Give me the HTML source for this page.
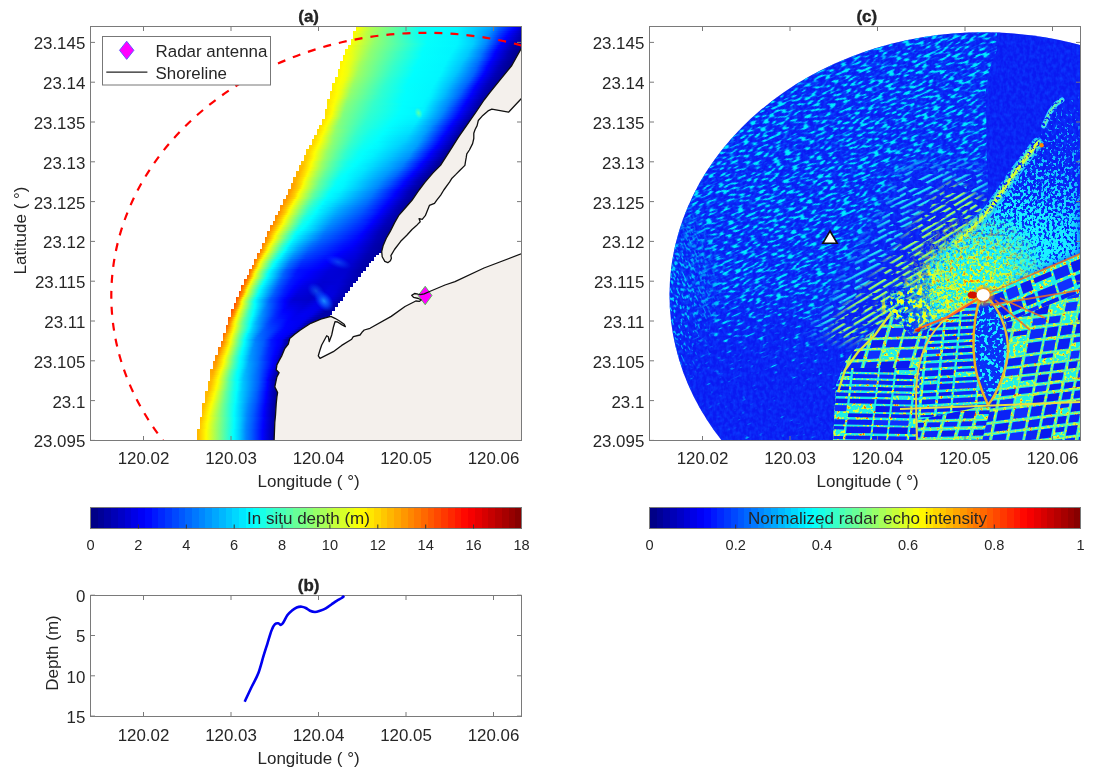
<!DOCTYPE html>
<html><head><meta charset="utf-8"><style>
html,body{margin:0;padding:0;background:#fff;}
body{width:1096px;height:780px;position:relative;overflow:hidden;font-family:"Liberation Sans",sans-serif;}
.abs{position:absolute;}
.bz div{position:absolute;height:2px;}
svg text{font-family:"Liberation Sans",sans-serif;}
</style></head><body>
<div style="position:absolute;left:90.5px;top:507.5px;width:431.0px;height:21.0px;background:linear-gradient(90deg,#000087 0.000%,#000087 1.562%,#000097 1.562%,#000097 3.125%,#0000a7 3.125%,#0000a7 4.688%,#0000b7 4.688%,#0000b7 6.250%,#0000c7 6.250%,#0000c7 7.812%,#0000d7 7.812%,#0000d7 9.375%,#0000e7 9.375%,#0000e7 10.938%,#0000f7 10.938%,#0000f7 12.500%,#0008ff 12.500%,#0008ff 14.062%,#0018ff 14.062%,#0018ff 15.625%,#0028ff 15.625%,#0028ff 17.188%,#0038ff 17.188%,#0038ff 18.750%,#0048ff 18.750%,#0048ff 20.312%,#0058ff 20.312%,#0058ff 21.875%,#0068ff 21.875%,#0068ff 23.438%,#0078ff 23.438%,#0078ff 25.000%,#0087ff 25.000%,#0087ff 26.562%,#0097ff 26.562%,#0097ff 28.125%,#00a7ff 28.125%,#00a7ff 29.688%,#00b7ff 29.688%,#00b7ff 31.250%,#00c7ff 31.250%,#00c7ff 32.812%,#00d7ff 32.812%,#00d7ff 34.375%,#00e7ff 34.375%,#00e7ff 35.938%,#00f7ff 35.938%,#00f7ff 37.500%,#08fff7 37.500%,#08fff7 39.062%,#18ffe7 39.062%,#18ffe7 40.625%,#28ffd7 40.625%,#28ffd7 42.188%,#38ffc7 42.188%,#38ffc7 43.750%,#48ffb7 43.750%,#48ffb7 45.312%,#58ffa7 45.312%,#58ffa7 46.875%,#68ff97 46.875%,#68ff97 48.438%,#78ff87 48.438%,#78ff87 50.000%,#87ff78 50.000%,#87ff78 51.562%,#97ff68 51.562%,#97ff68 53.125%,#a7ff58 53.125%,#a7ff58 54.688%,#b7ff48 54.688%,#b7ff48 56.250%,#c7ff38 56.250%,#c7ff38 57.812%,#d7ff28 57.812%,#d7ff28 59.375%,#e7ff18 59.375%,#e7ff18 60.938%,#f7ff08 60.938%,#f7ff08 62.500%,#fff700 62.500%,#fff700 64.062%,#ffe700 64.062%,#ffe700 65.625%,#ffd700 65.625%,#ffd700 67.188%,#ffc700 67.188%,#ffc700 68.750%,#ffb700 68.750%,#ffb700 70.312%,#ffa700 70.312%,#ffa700 71.875%,#ff9700 71.875%,#ff9700 73.438%,#ff8700 73.438%,#ff8700 75.000%,#ff7800 75.000%,#ff7800 76.562%,#ff6800 76.562%,#ff6800 78.125%,#ff5800 78.125%,#ff5800 79.688%,#ff4800 79.688%,#ff4800 81.250%,#ff3800 81.250%,#ff3800 82.812%,#ff2800 82.812%,#ff2800 84.375%,#ff1800 84.375%,#ff1800 85.938%,#ff0800 85.938%,#ff0800 87.500%,#f70000 87.500%,#f70000 89.062%,#e70000 89.062%,#e70000 90.625%,#d70000 90.625%,#d70000 92.188%,#c70000 92.188%,#c70000 93.750%,#b70000 93.750%,#b70000 95.312%,#a70000 95.312%,#a70000 96.875%,#970000 96.875%,#970000 98.438%,#870000 98.438%,#870000 100.000%)"></div><div style="position:absolute;left:649.5px;top:507.5px;width:431.0px;height:21.0px;background:linear-gradient(90deg,#000087 0.000%,#000087 1.562%,#000097 1.562%,#000097 3.125%,#0000a7 3.125%,#0000a7 4.688%,#0000b7 4.688%,#0000b7 6.250%,#0000c7 6.250%,#0000c7 7.812%,#0000d7 7.812%,#0000d7 9.375%,#0000e7 9.375%,#0000e7 10.938%,#0000f7 10.938%,#0000f7 12.500%,#0008ff 12.500%,#0008ff 14.062%,#0018ff 14.062%,#0018ff 15.625%,#0028ff 15.625%,#0028ff 17.188%,#0038ff 17.188%,#0038ff 18.750%,#0048ff 18.750%,#0048ff 20.312%,#0058ff 20.312%,#0058ff 21.875%,#0068ff 21.875%,#0068ff 23.438%,#0078ff 23.438%,#0078ff 25.000%,#0087ff 25.000%,#0087ff 26.562%,#0097ff 26.562%,#0097ff 28.125%,#00a7ff 28.125%,#00a7ff 29.688%,#00b7ff 29.688%,#00b7ff 31.250%,#00c7ff 31.250%,#00c7ff 32.812%,#00d7ff 32.812%,#00d7ff 34.375%,#00e7ff 34.375%,#00e7ff 35.938%,#00f7ff 35.938%,#00f7ff 37.500%,#08fff7 37.500%,#08fff7 39.062%,#18ffe7 39.062%,#18ffe7 40.625%,#28ffd7 40.625%,#28ffd7 42.188%,#38ffc7 42.188%,#38ffc7 43.750%,#48ffb7 43.750%,#48ffb7 45.312%,#58ffa7 45.312%,#58ffa7 46.875%,#68ff97 46.875%,#68ff97 48.438%,#78ff87 48.438%,#78ff87 50.000%,#87ff78 50.000%,#87ff78 51.562%,#97ff68 51.562%,#97ff68 53.125%,#a7ff58 53.125%,#a7ff58 54.688%,#b7ff48 54.688%,#b7ff48 56.250%,#c7ff38 56.250%,#c7ff38 57.812%,#d7ff28 57.812%,#d7ff28 59.375%,#e7ff18 59.375%,#e7ff18 60.938%,#f7ff08 60.938%,#f7ff08 62.500%,#fff700 62.500%,#fff700 64.062%,#ffe700 64.062%,#ffe700 65.625%,#ffd700 65.625%,#ffd700 67.188%,#ffc700 67.188%,#ffc700 68.750%,#ffb700 68.750%,#ffb700 70.312%,#ffa700 70.312%,#ffa700 71.875%,#ff9700 71.875%,#ff9700 73.438%,#ff8700 73.438%,#ff8700 75.000%,#ff7800 75.000%,#ff7800 76.562%,#ff6800 76.562%,#ff6800 78.125%,#ff5800 78.125%,#ff5800 79.688%,#ff4800 79.688%,#ff4800 81.250%,#ff3800 81.250%,#ff3800 82.812%,#ff2800 82.812%,#ff2800 84.375%,#ff1800 84.375%,#ff1800 85.938%,#ff0800 85.938%,#ff0800 87.500%,#f70000 87.500%,#f70000 89.062%,#e70000 89.062%,#e70000 90.625%,#d70000 90.625%,#d70000 92.188%,#c70000 92.188%,#c70000 93.750%,#b70000 93.750%,#b70000 95.312%,#a70000 95.312%,#a70000 96.875%,#970000 96.875%,#970000 98.438%,#870000 98.438%,#870000 100.000%)"></div><div class="abs bz" style="left:91px;top:27px;width:430px;height:413px;overflow:hidden"><div style="left:264.7px;top:0px;width:165.3px;background:linear-gradient(90deg,#fffa00 0.0px,#f9ff06 2.0px,#b8ff47 13.0px,#0afff5 64.1px,#0ff 82.1px,#00f7ff 101.2px,#00caff 120.2px,#00a3ff 134.2px,#05f 144.3px,#0000fe 158.3px,#0000c5 165.3px)"></div><div style="left:264.7px;top:2px;width:165.3px;background:linear-gradient(90deg,#ff0 0.0px,#b3ff4c 14.0px,#0dfff2 63.1px,#01fffe 79.1px,#00f7ff 101.2px,#00d1ff 117.2px,#009bff 134.2px,#0052ff 143.3px,#0002ff 156.3px,#00e 159.3px,#0000bf 165.3px)"></div><div style="left:262.1px;top:4px;width:167.9px;background:linear-gradient(90deg,#fff600 0.0px,#fdff02 2.0px,#bf4 14.1px,#91ff6e 25.1px,#15ffea 63.3px,#0afff5 69.4px,#0ff 83.4px,#00f7ff 103.6px,#00ceff 120.6px,#0094ff 136.7px,#0049ff 145.8px,#0004ff 156.8px,#0000e5 161.9px,#0000b9 167.9px)"></div><div style="left:262.1px;top:6px;width:167.9px;background:linear-gradient(90deg,#fffb00 0.0px,#bdff42 13.1px,#8eff71 25.1px,#13ffec 64.3px,#04fffb 74.4px,#00f7ff 103.6px,#00cbff 121.7px,#0092ff 135.7px,#0031ff 147.8px,#0001ff 155.8px,#0000b3 167.9px)"></div><div style="left:262.1px;top:8px;width:167.9px;background:linear-gradient(90deg,#feff01 0.0px,#bfff40 12.1px,#8fff70 24.1px,#16ffe9 63.3px,#03fffc 74.4px,#00f5ff 104.6px,#00cdff 120.6px,#008bff 135.7px,#0036ff 145.8px,#0003ff 153.8px,#0000ad 167.9px)"></div><div style="left:262.1px;top:10px;width:167.9px;background:linear-gradient(90deg,#f9ff06 0.0px,#c1ff3e 11.1px,#8fff70 23.1px,#17ffe8 63.3px,#03fffc 74.4px,#00f6ff 103.6px,#00cfff 119.6px,#008aff 134.7px,#0025ff 146.8px,#00f 152.8px,#0000a7 167.9px)"></div><div style="left:259.5px;top:12px;width:170.5px;background:linear-gradient(90deg,#fffc00 0.0px,#8fff70 25.1px,#1affe5 65.2px,#03fffc 76.2px,#00f6ff 106.3px,#00cbff 123.4px,#0089ff 136.4px,#001aff 149.4px,#0001ff 153.4px,#0000a1 170.5px)"></div><div style="left:259.5px;top:14px;width:170.5px;background:linear-gradient(90deg,#fdff02 0.0px,#93ff6c 23.1px,#23ffdc 62.2px,#03fffc 75.2px,#00f5ff 106.3px,#00cdff 122.4px,#0089ff 135.4px,#0003ff 151.4px,#00b 163.5px,#00009b 170.5px)"></div><div style="left:259.5px;top:16px;width:170.5px;background:linear-gradient(90deg,#f9ff06 0.0px,#90ff6f 23.1px,#02fffd 76.2px,#00f5ff 106.3px,#00cdff 122.4px,#0083ff 135.4px,#0000fe 150.4px,#0000b2 163.5px,#000095 170.5px)"></div><div style="left:256.9px;top:18px;width:173.1px;background:linear-gradient(90deg,#fffc00 0.0px,#90ff6f 25.0px,#02fffd 78.0px,#00f7ff 107.1px,#00cdff 124.1px,#0082ff 137.1px,#0004ff 151.1px,#0000af 165.1px,#000091 173.1px)"></div><div style="left:256.9px;top:20px;width:173.1px;background:linear-gradient(90deg,#ff0 0.0px,#90ff6f 24.0px,#02fffd 76.0px,#00f5ff 107.1px,#00cbff 123.1px,#0081ff 136.1px,#0003ff 150.1px,#0000ae 164.1px,#000091 173.1px)"></div><div style="left:254.3px;top:22px;width:175.7px;background:linear-gradient(90deg,#fff600 0.0px,#fffe00 2.0px,#efff10 6.0px,#8fff70 26.1px,#02fffd 78.3px,#00f5ff 108.4px,#00caff 124.5px,#0079ff 138.6px,#0002ff 151.6px,#0000ae 165.7px,#000093 172.7px,#000091 175.7px)"></div><div style="left:254.3px;top:24px;width:175.7px;background:linear-gradient(90deg,#fff800 0.0px,#fdff02 2.0px,#edff12 6.0px,#90ff6f 25.1px,#3affc5 55.2px,#02fffd 77.3px,#00f5ff 107.4px,#00c9ff 123.5px,#0078ff 137.5px,#0001ff 150.6px,#0000ad 164.7px,#000093 171.7px,#000092 175.7px)"></div><div style="left:254.3px;top:26px;width:175.7px;background:linear-gradient(90deg,#fffb00 0.0px,#e7ff18 7.0px,#90ff6f 24.1px,#3fffc0 52.2px,#02fffd 76.3px,#00f6ff 105.4px,#00c8ff 122.5px,#007eff 135.5px,#00f 149.6px,#0000ad 163.7px,#000092 170.7px,#000092 175.7px)"></div><div style="left:251.7px;top:28px;width:177.4px;background:linear-gradient(90deg,#fff300 0.0px,#fffe00 3.0px,#e8ff17 9.0px,#afff50 19.0px,#8cff73 27.1px,#3bffc4 55.1px,#01fffe 79.2px,#00f7ff 106.2px,#00c6ff 124.3px,#007cff 137.3px,#0006ff 150.3px,#0000fd 151.3px,#0000b0 164.3px,#000092 172.4px,#000092 177.4px)"></div><div style="left:251.7px;top:30px;width:176.3px;background:linear-gradient(90deg,#fff500 0.0px,#feff01 3.0px,#e6ff19 9.0px,#a5ff5a 20.0px,#8dff72 26.0px,#3dffc2 53.1px,#01fffe 78.1px,#00f7ff 105.2px,#00c8ff 122.2px,#0074ff 137.2px,#0006ff 149.2px,#0000fd 150.2px,#0000ac 164.2px,#000095 170.3px,#000093 176.3px)"></div><div style="left:251.7px;top:32px;width:175.2px;background:linear-gradient(90deg,#fff700 0.0px,#ff0 2.0px,#e4ff1b 9.0px,#a6ff59 19.0px,#8dff72 25.0px,#3affc5 53.0px,#01fffe 76.1px,#00f7ff 104.1px,#00c7ff 121.1px,#006cff 137.1px,#0006ff 148.1px,#0000fd 149.1px,#0000bf 159.1px,#0000a8 164.1px,#000093 170.1px,#000093 175.2px)"></div><div style="left:249.1px;top:34px;width:176.6px;background:linear-gradient(90deg,#fff100 0.0px,#fffe00 4.0px,#e5ff1a 11.0px,#a4ff5b 21.1px,#8cff73 27.1px,#38ffc7 55.2px,#01fffe 78.3px,#00f7ff 105.4px,#00c7ff 122.4px,#0074ff 137.5px,#0006ff 149.5px,#0000fd 150.5px,#0000b9 161.6px,#0000ac 164.6px,#000095 170.6px,#000093 176.6px)"></div><div style="left:249.1px;top:36px;width:175.5px;background:linear-gradient(90deg,#fff200 0.0px,#feff01 4.0px,#e8ff17 10.0px,#a5ff5a 20.1px,#8dff72 26.1px,#35ffca 55.2px,#01fffe 77.2px,#00f6ff 105.3px,#00c6ff 121.4px,#0065ff 138.4px,#0006ff 148.5px,#0000fc 149.5px,#0000ab 163.5px,#000095 169.5px,#000094 175.5px)"></div><div style="left:249.1px;top:38px;width:174.3px;background:linear-gradient(90deg,#fff400 0.0px,#fffe00 3.0px,#eaff15 9.0px,#a1ff5e 20.0px,#8aff75 26.0px,#37ffc8 53.1px,#01fffe 76.1px,#00f6ff 104.2px,#00c5ff 120.2px,#007aff 134.2px,#0065ff 137.2px,#0006ff 147.2px,#0000fd 148.2px,#0000b9 159.3px,#0000a4 164.3px,#000094 169.3px,#000094 174.3px)"></div><div style="left:249.1px;top:40px;width:172.7px;background:linear-gradient(90deg,#fff600 0.0px,#feff01 3.0px,#edff12 8.0px,#a1ff5e 19.1px,#8eff71 24.1px,#34ffcb 53.2px,#01fffe 74.3px,#00f7ff 102.4px,#00c3ff 119.5px,#0062ff 136.5px,#0002ff 146.6px,#0000b6 158.6px,#000094 167.6px,#000094 172.7px)"></div><div style="left:246.5px;top:42px;width:173.6px;background:linear-gradient(90deg,#fff100 0.0px,#feff01 5.0px,#ef1 10.0px,#a0ff5f 21.1px,#8dff72 26.1px,#35ffca 54.2px,#0ff 77.3px,#00f7ff 104.4px,#00c4ff 120.4px,#06f 137.5px,#0007ff 147.5px,#0000fd 148.5px,#0000b8 159.6px,#000096 168.6px,#000095 173.6px)"></div><div style="left:246.5px;top:44px;width:172.0px;background:linear-gradient(90deg,#fff100 0.0px,#fffe00 4.0px,#ecff13 10.1px,#a0ff5f 20.1px,#8aff75 26.2px,#34ffcb 53.3px,#0ff 76.4px,#00f6ff 103.6px,#00c2ff 119.7px,#0064ff 136.8px,#0002ff 146.9px,#0000b6 158.9px,#000095 168.0px,#000095 172.0px)"></div><div style="left:246.5px;top:46px;width:170.4px;background:linear-gradient(90deg,#fff300 0.0px,#ff0 4.0px,#efff10 9.0px,#a3ff5c 19.0px,#8bff74 25.1px,#34ffcb 52.1px,#0ff 75.2px,#00f7ff 102.2px,#00c6ff 117.3px,#06f 135.3px,#0006ff 145.3px,#0000fd 146.3px,#0000b7 157.3px,#000096 166.4px,#000095 170.4px)"></div><div style="left:246.5px;top:48px;width:168.7px;background:linear-gradient(90deg,#fff500 0.0px,#fdff02 4.0px,#edff12 9.0px,#a4ff5b 18.1px,#9f6 20.1px,#31ffce 52.2px,#0ff 74.3px,#00f7ff 101.4px,#00c4ff 116.5px,#0064ff 134.6px,#0001ff 144.6px,#0000b5 156.7px,#000098 164.7px,#000096 168.7px)"></div><div style="left:243.9px;top:50px;width:169.7px;background:linear-gradient(90deg,#fff100 0.0px,#feff01 6.0px,#f2ff0d 10.0px,#9cff63 21.1px,#87ff78 27.1px,#2fffd0 54.2px,#0ff 75.3px,#00f7ff 102.4px,#00c5ff 117.5px,#0067ff 135.6px,#0006ff 145.6px,#0000fd 146.6px,#0000b7 157.7px,#000096 166.7px,#000096 169.7px)"></div><div style="left:243.9px;top:52px;width:168.1px;background:linear-gradient(90deg,#fff100 0.0px,#ff0 5.0px,#f1ff0e 10.0px,#9dff62 20.0px,#92ff6d 23.0px,#2fffd0 53.0px,#0ff 74.0px,#00f7ff 102.0px,#00c2ff 117.1px,#0063ff 135.1px,#00f 145.1px,#0000b8 156.1px,#000098 165.1px,#000096 168.1px)"></div><div style="left:243.9px;top:54px;width:166.5px;background:linear-gradient(90deg,#fff100 0.0px,#feff01 5.0px,#f1ff0e 9.0px,#9dff62 19.1px,#91ff6e 22.1px,#2fffd0 52.1px,#0ff 74.2px,#00f7ff 100.3px,#00cbff 113.3px,#00b1ff 119.3px,#0065ff 133.4px,#0004ff 143.4px,#0000b6 155.4px,#000098 163.5px,#000096 166.5px)"></div><div style="left:241.3px;top:56px;width:167.5px;background:linear-gradient(90deg,#ffef00 0.0px,#feff01 7.0px,#f0ff0f 11.0px,#9bff64 21.1px,#8fff70 24.1px,#2effd1 54.1px,#01fffe 75.2px,#00f7ff 102.3px,#00eaff 106.3px,#00bdff 118.3px,#006cff 133.4px,#005fff 135.4px,#0000fe 145.4px,#0000b8 156.4px,#009 164.5px,#000096 167.5px)"></div><div style="left:241.3px;top:58px;width:165.8px;background:linear-gradient(90deg,#fe0 0.0px,#fffe00 6.0px,#ebff14 11.1px,#95ff6a 21.1px,#30ffcf 52.3px,#01fffe 74.4px,#00f7ff 100.5px,#00edff 104.5px,#00bfff 116.6px,#0062ff 133.7px,#0002ff 143.7px,#0000ba 154.8px,#009 162.8px,#000096 165.8px)"></div><div style="left:241.3px;top:60px;width:164.2px;background:linear-gradient(90deg,#ffed00 0.0px,#feff01 6.0px,#edff12 10.0px,#9cff63 19.0px,#8eff71 22.0px,#2effd1 52.1px,#02fffd 73.1px,#00f7ff 100.1px,#00e7ff 105.2px,#0bf 116.2px,#0063ff 132.2px,#0005ff 142.2px,#0000fd 143.2px,#0000bc 153.2px,#000096 162.2px,#000096 164.2px)"></div><div style="left:241.3px;top:62px;width:162.6px;background:linear-gradient(90deg,#ffec00 0.0px,#fffe00 5.0px,#edff12 9.0px,#95ff6a 19.1px,#8dff72 21.1px,#3fc 49.2px,#01fffe 74.3px,#00f7ff 98.4px,#00edff 102.4px,#00bdff 114.4px,#0064ff 130.5px,#0001ff 141.5px,#0000b9 152.6px,#000096 160.6px,#000096 162.6px)"></div><div style="left:238.7px;top:64px;width:163.6px;background:linear-gradient(90deg,#ffeb00 0.0px,#ffeb00 2.0px,#fdff02 8.0px,#e5ff1a 12.0px,#9aff65 20.1px,#8f7 24.1px,#2fffd0 52.2px,#01fffe 76.3px,#00f7ff 100.4px,#00ecff 104.4px,#00bfff 115.4px,#06f 131.5px,#0004ff 142.5px,#0000c0 152.6px,#000097 161.6px,#000096 163.6px)"></div><div style="left:238.7px;top:66px;width:162.1px;background:linear-gradient(90deg,#ffea00 0.0px,#ffec00 2.0px,#ff0 7.0px,#faff05 8.0px,#e8ff17 11.0px,#9cff63 19.0px,#8eff71 21.0px,#2dffd2 52.0px,#05fffa 72.0px,#0ff 77.0px,#00f7ff 99.0px,#00edff 103.0px,#0bf 115.0px,#0079ff 127.0px,#005fff 131.0px,#000dff 140.1px,#0000fe 142.1px,#0000c2 151.1px,#000097 160.1px,#000096 162.1px)"></div><div style="left:238.7px;top:68px;width:160.5px;background:linear-gradient(90deg,#ffe900 0.0px,#fcff03 7.0px,#e1ff1e 11.0px,#8dff72 20.1px,#37ffc8 47.1px,#05fffa 71.2px,#0ff 76.2px,#00f7ff 98.3px,#00f0ff 101.3px,#00bdff 113.4px,#08f 123.4px,#0061ff 129.4px,#0001ff 140.4px,#0000be 150.5px,#000097 158.5px,#000096 160.5px)"></div><div style="left:238.7px;top:70px;width:159.0px;background:linear-gradient(90deg,#ffe800 0.0px,#feff01 6.0px,#e3ff1c 10.1px,#94ff6b 18.1px,#89ff76 20.1px,#2fffd0 49.3px,#05fffa 70.4px,#0ff 75.5px,#00f8ff 95.6px,#00efff 100.6px,#00bfff 111.7px,#0084ff 122.7px,#0063ff 127.8px,#0004ff 138.8px,#0000b0 151.9px,#000097 156.9px,#000096 159.0px)"></div><div style="left:236.1px;top:72px;width:160.0px;background:linear-gradient(90deg,#ffe700 0.0px,#ffe700 2.0px,#ff0 8.0px,#e2ff1d 12.0px,#93ff6c 20.0px,#7eff81 25.0px,#31ffce 50.0px,#06fff9 72.0px,#0ff 78.0px,#00f8ff 97.0px,#00f0ff 102.0px,#00bfff 113.0px,#0084ff 124.0px,#0063ff 129.0px,#0005ff 140.0px,#0000fd 141.0px,#0000b1 153.0px,#000097 158.0px,#000096 160.0px)"></div><div style="left:236.1px;top:74px;width:158.7px;background:linear-gradient(90deg,#ffe600 0.0px,#ffe700 2.0px,#fbff04 8.0px,#e4ff1b 11.0px,#8bff74 20.1px,#7dff82 24.1px,#35ffca 47.2px,#06fff9 71.3px,#00feff 77.3px,#00f8ff 96.4px,#0ef 101.4px,#008cff 121.5px,#005cff 128.5px,#00f 139.6px,#0000b1 151.6px,#000097 156.7px,#000096 158.7px)"></div><div style="left:236.1px;top:76px;width:157.3px;background:linear-gradient(90deg,#ffe500 0.0px,#ffe800 2.0px,#feff01 7.0px,#df2 11.0px,#8bff74 19.0px,#86ff79 20.0px,#35ffca 46.1px,#0ff 76.2px,#00f8ff 95.2px,#00efff 100.2px,#008cff 120.2px,#0063ff 126.3px,#00f 138.3px,#0000b1 150.3px,#000096 155.3px,#000096 157.3px)"></div><div style="left:236.1px;top:78px;width:156.0px;background:linear-gradient(90deg,#ffe400 0.0px,#fffe00 6.0px,#faff05 7.0px,#85ff7a 19.1px,#32ffcd 46.3px,#00feff 75.5px,#00f8ff 94.6px,#00f1ff 98.6px,#0087ff 119.8px,#005cff 125.8px,#0001ff 136.9px,#00009a 153.0px,#000096 156.0px)"></div><div style="left:236.1px;top:80px;width:154.6px;background:linear-gradient(90deg,#ffe300 0.0px,#feff01 6.0px,#85ff7a 18.1px,#32ffcd 45.2px,#0ff 74.3px,#00f2ff 97.4px,#0087ff 118.5px,#0002ff 135.6px,#009 151.6px,#000096 154.6px)"></div><div style="left:233.5px;top:82px;width:155.9px;background:linear-gradient(90deg,#ffe200 0.0px,#ffe200 2.0px,#feff01 8.0px,#8aff75 19.1px,#7cff83 22.1px,#3fc 46.3px,#0ff 76.4px,#00f4ff 98.6px,#08f 119.7px,#0003ff 136.8px,#009 152.9px,#000096 155.9px)"></div><div style="left:233.5px;top:84px;width:154.6px;background:linear-gradient(90deg,#ffe100 0.0px,#ffe300 2.0px,#fffd00 7.0px,#82ff7d 19.1px,#3fc 45.2px,#0ff 75.3px,#00f5ff 97.3px,#08f 118.4px,#0003ff 135.5px,#000098 151.5px,#000096 154.6px)"></div><div style="left:233.5px;top:86px;width:153.2px;background:linear-gradient(90deg,#ffe000 0.0px,#ffe000 1.0px,#fdff02 7.0px,#84ff7b 18.0px,#7eff81 19.0px,#30ffcf 45.0px,#0ff 74.1px,#00f6ff 96.1px,#08f 117.1px,#0004ff 134.1px,#000097 150.2px,#000096 153.2px)"></div><div style="left:233.5px;top:88px;width:151.8px;background:linear-gradient(90deg,#ffe000 0.0px,#ff0 6.0px,#7fff80 18.1px,#2fffd0 44.2px,#00feff 73.4px,#00f2ff 95.5px,#0089ff 115.6px,#0005ff 132.7px,#0000fc 133.7px,#000097 148.7px,#000096 151.8px)"></div><div style="left:233.5px;top:90px;width:150.4px;background:linear-gradient(90deg,#ffe100 0.0px,#fffe00 5.0px,#81ff7e 17.0px,#2fffd0 43.1px,#0ff 71.2px,#00f0ff 94.2px,#0089ff 114.3px,#0005ff 131.3px,#0000fc 132.3px,#000097 147.4px,#000096 150.4px)"></div><div style="left:230.9px;top:92px;width:151.6px;background:linear-gradient(90deg,#ffde00 0.0px,#ffe200 2.0px,#feff01 7.0px,#8f7 18.1px,#7eff81 20.1px,#30ffcf 44.2px,#0ff 72.3px,#0ef 95.4px,#0089ff 115.4px,#0005ff 132.5px,#0000fc 133.5px,#000097 148.6px,#000096 151.6px)"></div><div style="left:230.9px;top:94px;width:150.2px;background:linear-gradient(90deg,#ffde00 0.0px,#fffe00 6.0px,#8bff74 17.0px,#79ff86 21.0px,#2dffd2 44.1px,#01fffe 70.1px,#00ecff 94.1px,#08f 114.1px,#0004ff 131.2px,#000097 147.2px,#000096 150.2px)"></div><div style="left:230.9px;top:96px;width:148.8px;background:linear-gradient(90deg,#ffdf00 0.0px,#fffe00 5.0px,#8dff72 16.1px,#7eff81 19.1px,#2cffd3 43.2px,#01fffe 68.4px,#00eaff 92.5px,#00e2ff 94.5px,#00a5ff 107.6px,#08f 112.6px,#0005ff 129.7px,#0000fc 130.7px,#000098 145.8px,#000096 148.8px)"></div><div style="left:228.3px;top:98px;width:150.0px;background:linear-gradient(90deg,#ffdc00 0.0px,#ffe000 2.0px,#feff01 7.0px,#8cff73 18.1px,#7eff81 21.1px,#2dffd2 44.3px,#01fffe 69.5px,#00e5ff 94.6px,#0095ff 111.7px,#0005ff 130.9px,#0000fd 131.9px,#000098 147.0px,#000096 150.0px)"></div><div style="left:228.3px;top:100px;width:148.6px;background:linear-gradient(90deg,#ffdc00 0.0px,#fffe00 6.0px,#90ff6f 17.1px,#7cff83 21.1px,#2cffd3 43.2px,#03fffc 66.3px,#00e2ff 93.4px,#0af 106.4px,#008eff 111.4px,#0005ff 129.5px,#0000fc 130.5px,#000098 145.6px,#000096 148.6px)"></div><div style="left:225.7px;top:102px;width:149.8px;background:linear-gradient(90deg,#ffdb00 0.0px,#ffdb00 2.0px,#fdff02 8.0px,#8fff70 19.1px,#36ffc9 41.2px,#16ffe9 54.3px,#0ff 69.4px,#00e2ff 93.5px,#00d0ff 98.5px,#00a6ff 108.6px,#08f 113.6px,#0005ff 130.7px,#0000fc 131.7px,#009 146.8px,#000096 149.8px)"></div><div style="left:225.7px;top:104px;width:148.4px;background:linear-gradient(90deg,#ffda00 0.0px,#ffdf00 2.0px,#feff01 7.0px,#92ff6d 18.1px,#36ffc9 40.1px,#13ffec 54.2px,#02fffd 66.2px,#00deff 93.3px,#009bff 109.3px,#0004ff 129.4px,#009 145.4px,#000096 148.4px)"></div><div style="left:225.7px;top:106px;width:147.0px;background:linear-gradient(90deg,#ffda00 0.0px,#fffe00 6.0px,#95ff6a 17.0px,#84ff7b 20.0px,#36ffc9 39.0px,#14ffeb 52.0px,#0ff 66.0px,#00dbff 92.0px,#00a1ff 107.0px,#0004ff 128.0px,#009 144.0px,#000096 147.0px)"></div><div style="left:223.1px;top:108px;width:148.2px;background:linear-gradient(90deg,#ffd900 0.0px,#ffd900 2.0px,#feff01 8.0px,#95ff6a 19.0px,#34ffcb 41.1px,#14ffeb 53.1px,#01fffe 66.1px,#00d8ff 93.1px,#00a5ff 107.2px,#0080ff 113.2px,#0004ff 129.2px,#009 145.2px,#000096 148.2px)"></div><div style="left:223.1px;top:110px;width:146.9px;background:linear-gradient(90deg,#ffd800 0.0px,#fd0 2.0px,#ff0 7.0px,#a9ff56 16.1px,#8aff75 20.1px,#3fc 40.2px,#12ffed 52.3px,#01fffe 64.4px,#00d4ff 92.6px,#00a9ff 104.6px,#009cff 107.7px,#0079ff 112.7px,#0004ff 127.8px,#009 143.9px,#000096 146.9px)"></div><div style="left:220.5px;top:112px;width:148.2px;background:linear-gradient(90deg,#ffd800 0.0px,#ffd800 3.0px,#fdff02 9.0px,#a0ff5f 19.0px,#8aff75 22.0px,#31ffce 42.1px,#0efff1 55.1px,#0ff 66.1px,#00d1ff 94.1px,#00a0ff 108.2px,#07f 114.2px,#0002ff 129.2px,#009 145.2px,#000096 148.2px)"></div><div style="left:220.5px;top:114px;width:146.9px;background:linear-gradient(90deg,#ffd700 0.0px,#ffd700 2.0px,#feff01 8.1px,#8bff74 21.1px,#38ffc7 39.3px,#1fe 52.3px,#01fffe 63.4px,#00cfff 92.6px,#00a4ff 105.7px,#0095ff 108.7px,#0002ff 127.8px,#000098 143.9px,#000096 146.9px)"></div><div style="left:220.5px;top:116px;width:145.7px;background:linear-gradient(90deg,#ffd600 0.0px,#ffdb00 2.0px,#ff0 7.0px,#a5ff5a 17.1px,#8f7 21.1px,#3fc 39.2px,#0dfff2 52.2px,#05fffa 58.3px,#00fbff 66.3px,#00d3ff 88.4px,#00a0ff 105.5px,#0001ff 126.6px,#000098 142.6px,#000096 145.7px)"></div><div style="left:217.9px;top:118px;width:147.0px;background:linear-gradient(90deg,#ffd600 0.0px,#ffd600 3.0px,#fdff02 9.1px,#8dff72 22.1px,#35ffca 40.3px,#0dfff2 53.4px,#02fffd 61.4px,#00f8ff 69.5px,#00d1ff 89.6px,#009cff 107.7px,#00f 127.9px,#00009d 143.0px,#000096 147.0px)"></div><div style="left:217.9px;top:120px;width:145.7px;background:linear-gradient(90deg,#ffd500 0.0px,#ffd500 2.0px,#feff01 8.0px,#8fff70 21.1px,#30ffcf 40.2px,#0cfff3 52.3px,#01fffe 60.3px,#00f7ff 68.3px,#00d1ff 87.4px,#009fff 105.5px,#0000fe 126.6px,#000097 142.7px,#000096 145.7px)"></div><div style="left:215.3px;top:122px;width:147.0px;background:linear-gradient(90deg,#ffd500 0.0px,#ffd500 4.0px,#fcff03 10.0px,#96ff69 22.0px,#6f9 31.0px,#2fffd0 42.0px,#08fff7 55.0px,#02fffd 60.0px,#00f0ff 73.0px,#00ceff 89.0px,#009eff 107.0px,#0004ff 127.0px,#00009c 143.0px,#000096 147.0px)"></div><div style="left:215.3px;top:124px;width:145.8px;background:linear-gradient(90deg,#ffd200 0.0px,#ffd200 3.0px,#ff0 9.0px,#97ff68 21.1px,#65ff9a 30.2px,#2effd1 41.2px,#08fff7 53.3px,#03fffc 57.3px,#00efff 71.4px,#00c7ff 89.5px,#009aff 105.5px,#0002ff 125.6px,#00009a 141.7px,#000096 145.8px)"></div><div style="left:215.3px;top:126px;width:144.5px;background:linear-gradient(90deg,#ffcf00 0.0px,#ffcf00 2.0px,#fffc00 8.0px,#faff05 9.0px,#91ff6e 21.1px,#36ffc9 38.1px,#07fff8 52.2px,#01fffe 57.2px,#00f5ff 66.2px,#00ceff 84.3px,#0095ff 104.3px,#0005ff 123.4px,#0000fd 124.4px,#000098 140.5px,#000096 144.5px)"></div><div style="left:212.7px;top:128px;width:145.8px;background:linear-gradient(90deg,#fc0 0.0px,#ffcf00 4.0px,#fffd00 10.1px,#96ff69 22.1px,#62ff9d 31.2px,#2effd1 41.2px,#0afff5 52.3px,#03fffc 56.3px,#00f0ff 69.4px,#00c4ff 88.5px,#0091ff 105.6px,#0002ff 124.7px,#000097 141.8px,#000096 145.8px)"></div><div style="left:212.7px;top:130px;width:144.5px;background:linear-gradient(90deg,#ffc900 0.0px,#fc0 3.0px,#fcff03 10.0px,#98ff67 21.1px,#62ff9d 30.1px,#26ffd9 42.2px,#09fff6 51.2px,#01fffe 56.2px,#00f2ff 66.2px,#00cbff 83.3px,#008cff 104.4px,#0005ff 122.4px,#0000fd 123.4px,#00009a 139.5px,#000096 144.5px)"></div><div style="left:212.7px;top:132px;width:143.2px;background:linear-gradient(90deg,#ffc600 0.0px,#ffc900 2.0px,#ff0 9.0px,#9aff65 20.0px,#62ff9d 29.1px,#2dffd2 39.1px,#16ffe9 45.1px,#04fffb 52.1px,#00feff 56.1px,#00e3ff 71.1px,#00b8ff 88.2px,#008bff 102.2px,#0002ff 121.2px,#000098 138.2px,#000096 143.2px)"></div><div style="left:210.1px;top:134px;width:144.6px;background:linear-gradient(90deg,#ffc400 0.0px,#ffc900 4.0px,#feff01 11.0px,#deff21 14.1px,#98ff67 22.1px,#5fffa0 31.1px,#2effd1 40.2px,#12ffed 47.2px,#0ff 56.2px,#00ebff 68.3px,#00c1ff 85.3px,#0087ff 103.4px,#0000fe 122.5px,#0000c9 130.5px,#000096 139.6px,#000096 144.6px)"></div><div style="left:210.1px;top:136px;width:143.3px;background:linear-gradient(90deg,#ffc100 0.0px,#ffc500 3.0px,#fffd00 10.0px,#f6ff09 11.0px,#9aff65 21.0px,#5fffa0 30.1px,#21ffde 42.1px,#0efff1 47.1px,#03fffc 52.1px,#00fdff 56.1px,#00dfff 71.1px,#00b8ff 86.2px,#0082ff 102.2px,#0002ff 120.2px,#00009a 137.3px,#000096 143.3px)"></div><div style="left:207.5px;top:138px;width:144.4px;background:linear-gradient(90deg,#ffbe00 0.0px,#ffbe00 4.0px,#ff0 12.0px,#9fff60 22.1px,#5cffa3 32.1px,#15ffea 46.1px,#0ff 55.2px,#00d9ff 74.2px,#00adff 90.2px,#008aff 100.3px,#0079ff 104.3px,#00f 121.3px,#0000c4 130.4px,#009 138.4px,#000096 144.4px)"></div><div style="left:207.5px;top:140px;width:142.4px;background:linear-gradient(90deg,#fb0 0.0px,#fb0 3.0px,#fffc00 11.0px,#a1ff5e 21.1px,#67ff98 29.1px,#34ffcb 38.1px,#0ffff0 46.1px,#02fffd 52.1px,#00e8ff 66.2px,#009cff 93.3px,#0078ff 102.3px,#0001ff 119.3px,#0000ba 130.4px,#000096 137.4px,#000096 142.4px)"></div><div style="left:207.5px;top:142px;width:140.4px;background:linear-gradient(90deg,#ffb800 0.0px,#ffb800 2.0px,#fff900 10.0px,#f8ff07 11.0px,#a2ff5d 20.1px,#67ff98 28.1px,#16ffe9 43.1px,#02fffd 50.1px,#00e6ff 65.2px,#009fff 90.3px,#0072ff 101.3px,#0003ff 117.3px,#0000b6 129.4px,#000098 135.4px,#000096 140.4px)"></div><div style="left:204.9px;top:144px;width:141.0px;background:linear-gradient(90deg,#ffb500 0.0px,#ffb700 4.0px,#fe0 11.0px,#fffb00 12.0px,#a9ff56 21.0px,#6bff94 29.0px,#13ffec 45.0px,#01fffe 52.0px,#00e3ff 67.0px,#009aff 92.0px,#0070ff 102.0px,#0004ff 118.0px,#0000a3 134.0px,#000096 137.0px,#000096 141.0px)"></div><div style="left:204.9px;top:146px;width:139.1px;background:linear-gradient(90deg,#ffb200 0.0px,#ffb400 3.0px,#ffe300 9.0px,#fff900 11.0px,#f8ff07 12.0px,#a2ff5d 21.0px,#64ff9b 29.0px,#0cfff3 45.0px,#01fffe 50.0px,#00e3ff 65.1px,#0096ff 91.1px,#0069ff 101.1px,#0005ff 116.1px,#0000fd 117.1px,#0000be 127.1px,#000096 135.1px,#000096 139.1px)"></div><div style="left:204.9px;top:148px;width:137.4px;background:linear-gradient(90deg,#ffb000 0.0px,#ffb100 2.0px,#ffe000 8.0px,#faff05 11.0px,#a3ff5c 20.1px,#63ff9c 28.1px,#0afff5 44.1px,#0ff 49.1px,#00e3ff 63.2px,#0098ff 88.3px,#0068ff 99.3px,#0005ff 114.3px,#0000fd 115.4px,#0000be 125.4px,#000096 133.4px,#000096 137.4px)"></div><div style="left:202.3px;top:150px;width:138.3px;background:linear-gradient(90deg,#ffad00 0.0px,#ffb100 4.0px,#ffe100 10.0px,#fff900 12.0px,#f6ff09 13.0px,#a9ff56 21.0px,#67ff98 29.1px,#0bfff4 45.1px,#0ff 50.1px,#00f8ff 55.1px,#00d5ff 69.2px,#0093ff 90.2px,#0065ff 100.2px,#0004ff 115.3px,#0000b8 127.3px,#00009b 133.3px,#000096 138.3px)"></div><div style="left:202.3px;top:152px;width:136.6px;background:linear-gradient(90deg,#fa0 0.0px,#ffae00 3.0px,#ffde00 9.0px,#fff700 11.0px,#f8ff07 12.1px,#af5 20.1px,#6f9 28.1px,#08fff7 44.2px,#02fffd 47.2px,#00f9ff 53.2px,#0df 64.3px,#008eff 89.4px,#005dff 99.4px,#0004ff 113.5px,#0000bd 124.5px,#000097 132.6px,#000096 136.6px)"></div><div style="left:202.3px;top:154px;width:134.9px;background:linear-gradient(90deg,#ffa700 0.0px,#ffab00 2.0px,#fb0 4.0px,#ffdb00 8.1px,#faff05 11.1px,#abff54 19.1px,#65ff9a 27.2px,#0bfff4 42.3px,#02fffd 45.3px,#00f9ff 51.3px,#0df 62.4px,#0090ff 86.6px,#005bff 97.6px,#0004ff 111.7px,#0000bd 122.8px,#0000a5 127.8px,#000098 130.9px,#000096 134.9px)"></div><div style="left:199.7px;top:156px;width:136.0px;background:linear-gradient(90deg,#ffa400 0.0px,#ffa400 3.0px,#ffdc00 10.1px,#fff900 12.1px,#f6ff09 13.1px,#68ff97 28.2px,#07fff8 44.3px,#0ff 47.3px,#00f5ff 54.4px,#00dfff 62.4px,#008eff 87.6px,#0058ff 98.7px,#0002ff 112.8px,#0000a9 127.9px,#000097 131.9px,#000096 136.0px)"></div><div style="left:199.7px;top:158px;width:134.4px;background:linear-gradient(90deg,#ffa200 0.0px,#ffa200 2.0px,#ffa800 3.0px,#ffd800 9.0px,#fff600 11.0px,#f9ff06 12.0px,#68ff97 27.1px,#02fffd 44.1px,#00f7ff 52.2px,#0cf 67.2px,#008bff 86.3px,#0059ff 96.3px,#0000fe 111.4px,#0000ba 122.4px,#000097 130.4px,#000096 134.4px)"></div><div style="left:199.7px;top:160px;width:132.9px;background:linear-gradient(90deg,#ff9f00 0.0px,#ffa500 2.0px,#ffd500 8.1px,#faff05 11.1px,#67ff98 26.2px,#02fffd 42.3px,#0ff 43.3px,#00f5ff 51.4px,#00c8ff 66.5px,#0082ff 86.6px,#0004ff 108.8px,#0000b9 120.8px,#0000a3 125.9px,#000096 128.9px,#000096 132.9px)"></div><div style="left:197.1px;top:162px;width:134.0px;background:linear-gradient(90deg,#ff9c00 0.0px,#ff9d00 3.0px,#ffd600 10.0px,#fff800 12.0px,#f9ff06 13.0px,#6eff91 27.0px,#0ff 44.0px,#00f6ff 52.0px,#00c9ff 67.0px,#0086ff 86.0px,#0001ff 110.0px,#0000b3 123.0px,#000096 130.0px,#000096 134.0px)"></div><div style="left:197.1px;top:164px;width:132.6px;background:linear-gradient(90deg,#ff9a00 0.0px,#ff9c00 2.0px,#ffbd00 6.0px,#ffd900 9.0px,#fffb00 11.1px,#f8ff07 12.1px,#62ff9d 27.1px,#0efff1 40.2px,#00fdff 43.2px,#00f2ff 51.2px,#007cff 86.4px,#0001ff 108.5px,#0000b8 120.6px,#000096 128.6px,#000096 132.6px)"></div><div style="left:197.1px;top:166px;width:131.2px;background:linear-gradient(90deg,#f90 0.0px,#ff9c00 1.0px,#ffce00 7.0px,#fffb00 10.0px,#f7ff08 11.0px,#67ff98 25.0px,#0ff 41.1px,#00e5ff 53.1px,#007cff 84.2px,#00f 107.2px,#0000af 121.2px,#000097 127.2px,#000097 131.2px)"></div><div style="left:194.5px;top:168px;width:132.5px;background:linear-gradient(90deg,#ff9800 0.0px,#ff9800 2.0px,#ffb800 6.0px,#ffd300 9.0px,#fdff02 12.0px,#61ff9e 27.1px,#0ff 42.1px,#00e9ff 52.2px,#0079ff 85.3px,#0000fe 108.4px,#0000b8 120.4px,#000097 128.5px,#000097 132.5px)"></div><div style="left:194.5px;top:170px;width:131.1px;background:linear-gradient(90deg,#ff9600 0.0px,#ff9600 1.0px,#ffd300 8.0px,#fcff03 11.0px,#5fffa0 26.0px,#39ffc6 31.0px,#00fdff 41.0px,#00e9ff 50.0px,#0075ff 84.1px,#0003ff 106.1px,#0000b3 120.1px,#000098 127.1px,#000097 131.1px)"></div><div style="left:191.9px;top:172px;width:132.3px;background:linear-gradient(90deg,#ff9500 0.0px,#ff9800 3.0px,#ffcf00 9.0px,#fffc00 12.0px,#f7ff08 13.0px,#61ff9e 27.1px,#39ffc6 32.1px,#00fdff 42.1px,#00e7ff 51.1px,#0072ff 85.2px,#0002ff 107.2px,#0000b3 121.3px,#000098 128.3px,#000098 132.3px)"></div><div style="left:191.9px;top:174px;width:130.6px;background:linear-gradient(90deg,#ff9300 0.0px,#ff9800 2.0px,#ffbc00 6.0px,#ffd000 8.0px,#fffd00 11.1px,#5dffa2 26.1px,#34ffcb 31.1px,#01fffe 40.2px,#00f5ff 42.2px,#00e3ff 50.2px,#006dff 84.4px,#0003ff 105.5px,#0000b9 118.6px,#00009a 126.6px,#000098 130.6px)"></div><div style="left:191.9px;top:176px;width:128.9px;background:linear-gradient(90deg,#ff9200 0.0px,#ffc600 6.0px,#fffe00 10.1px,#5affa5 25.2px,#30ffcf 30.2px,#00fdff 39.3px,#0068ff 83.6px,#0000fe 104.7px,#0000b6 117.8px,#000098 125.8px,#000098 128.9px)"></div><div style="left:189.3px;top:178px;width:129.7px;background:linear-gradient(90deg,#ff9100 0.0px,#ff9200 2.0px,#ffa400 4.0px,#ffcb00 8.0px,#fff700 11.1px,#faff05 12.1px,#5dffa2 26.1px,#39ffc6 30.2px,#00feff 40.2px,#00f2ff 42.2px,#0df 50.3px,#00b5ff 60.3px,#0062ff 85.5px,#00f 105.6px,#0000b8 118.6px,#00009a 126.7px,#000098 129.7px)"></div><div style="left:189.3px;top:180px;width:127.9px;background:linear-gradient(90deg,#ff8f00 0.0px,#ff9100 1.0px,#ffc100 6.0px,#fff800 10.1px,#f9ff06 11.1px,#50ffaf 26.2px,#2cffd3 30.2px,#01fffe 38.3px,#00afff 59.4px,#0060ff 83.6px,#0030ff 94.7px,#0001ff 103.8px,#0000b5 117.9px,#009 125.9px,#009 127.9px)"></div><div style="left:189.3px;top:182px;width:126.2px;background:linear-gradient(90deg,#ff9100 0.0px,#fc0 6.0px,#fff900 9.0px,#f9ff06 10.0px,#79ff86 21.0px,#32ffcd 28.0px,#0ff 37.1px,#0ef 40.1px,#00d6ff 48.1px,#00abff 58.1px,#005aff 83.1px,#0001ff 102.2px,#0000b6 116.2px,#00009a 124.2px,#009 126.2px)"></div><div style="left:186.7px;top:184px;width:127.1px;background:linear-gradient(90deg,#ff8c00 0.0px,#ff8c00 1.0px,#ffbc00 6.0px,#ffd200 8.0px,#ff0 11.0px,#72ff8d 23.0px,#34ffcb 29.0px,#23ffdc 31.0px,#0ff 38.0px,#00a5ff 60.0px,#0058ff 84.1px,#002aff 95.1px,#0001ff 103.1px,#0000b7 117.1px,#009 127.1px)"></div><div style="left:186.7px;top:186px;width:125.4px;background:linear-gradient(90deg,#ff8b00 0.0px,#ffc700 6.0px,#feff01 10.0px,#63ff9c 23.1px,#25ffda 29.1px,#00fcff 37.1px,#00a3ff 58.2px,#0056ff 82.2px,#0026ff 94.3px,#0002ff 101.3px,#0000c1 113.3px,#00009a 125.4px)"></div><div style="left:184.1px;top:188px;width:126.3px;background:linear-gradient(90deg,#ff8900 0.0px,#ff8e00 2.0px,#ffc100 7.0px,#fff900 11.0px,#f8ff07 12.0px,#67ff98 24.1px,#27ffd8 30.1px,#19ffe6 32.1px,#00fcff 38.1px,#009dff 60.2px,#0050ff 84.2px,#0025ff 95.2px,#0002ff 102.3px,#0000bd 115.3px,#00009a 126.3px)"></div><div style="left:184.1px;top:190px;width:125.2px;background:linear-gradient(90deg,#f80 0.0px,#ff8d00 1.0px,#ffc200 6.0px,#fffa00 10.0px,#f7ff08 11.0px,#70ff8f 22.0px,#23ffdc 29.0px,#1affe5 30.0px,#0ff 36.1px,#0098ff 59.1px,#004cff 83.1px,#02f 94.1px,#0000fe 101.2px,#0000c0 113.2px,#00009a 125.2px)"></div><div style="left:184.1px;top:192px;width:124.1px;background:linear-gradient(90deg,#ff8d00 0.0px,#ffcf00 6.0px,#fffb00 9.0px,#f6ff09 10.0px,#56ffa9 23.0px,#1fffe0 28.0px,#00fcff 35.0px,#0093ff 58.0px,#003dff 85.0px,#0002ff 99.0px,#0000be 112.0px,#00009a 124.1px)"></div><div style="left:181.5px;top:194px;width:125.5px;background:linear-gradient(90deg,#ff8500 0.0px,#ff8600 1.0px,#ffbc00 6.0px,#fcff03 11.0px,#7dff82 21.1px,#15ffea 30.1px,#01fffe 35.1px,#008fff 59.2px,#04f 83.3px,#0021ff 93.4px,#00f 100.4px,#0000b9 114.5px,#00009b 125.5px)"></div><div style="left:181.5px;top:196px;width:124.4px;background:linear-gradient(90deg,#ff8600 0.0px,#ffbd00 5.0px,#fbff04 10.0px,#6eff91 21.1px,#1fe 29.1px,#00fdff 34.1px,#008aff 58.2px,#001eff 92.3px,#0001ff 98.4px,#00b 112.4px,#00009b 124.4px)"></div><div style="left:178.9px;top:198px;width:126.1px;background:linear-gradient(90deg,#ff8200 0.0px,#ff8a00 2.0px,#ffb600 6.0px,#fffb00 11.0px,#f5ff0a 12.0px,#13ffec 30.0px,#00feff 35.0px,#08f 59.0px,#0021ff 92.0px,#0000fd 100.0px,#0000b9 114.0px,#00009b 126.1px)"></div><div style="left:178.9px;top:200px;width:125.1px;background:linear-gradient(90deg,#ff8100 0.0px,#ffb700 5.0px,#fffc00 10.0px,#0ffff0 29.0px,#0ff 33.0px,#00cdff 44.0px,#0083ff 58.0px,#0017ff 93.0px,#0000fe 98.0px,#0000b7 113.0px,#00009e 122.0px,#00009c 125.1px)"></div><div style="left:178.9px;top:202px;width:124.1px;background:linear-gradient(90deg,#ff8a00 0.0px,#ffb700 4.0px,#fffe00 9.0px,#0afff5 28.0px,#0ff 31.0px,#00caff 43.0px,#007eff 57.0px,#0014ff 92.0px,#0001ff 96.0px,#0000b8 111.0px,#00009d 121.0px,#00009c 124.1px)"></div><div style="left:176.3px;top:204px;width:125.6px;background:linear-gradient(90deg,#ff7e00 0.0px,#ff8100 1.0px,#ff9800 3.0px,#ffbd00 6.0px,#fff800 10.0px,#f8ff07 11.1px,#30ffcf 26.1px,#0bfff4 29.1px,#0ff 31.1px,#00c9ff 43.2px,#0079ff 58.3px,#01f 93.4px,#0000fe 97.5px,#0000b8 112.5px,#00009d 122.6px,#00009c 125.6px)"></div><div style="left:176.3px;top:206px;width:124.4px;background:linear-gradient(90deg,#ff7f00 0.0px,#ffaf00 4.0px,#fffa00 9.0px,#f5ff0a 10.0px,#5dffa2 21.1px,#07fff8 28.1px,#00feff 29.1px,#00efff 33.1px,#0073ff 57.2px,#0014ff 90.3px,#0001ff 95.3px,#0000b8 111.4px,#0000a0 120.4px,#00009c 124.4px)"></div><div style="left:176.3px;top:208px;width:123.3px;background:linear-gradient(90deg,#ff8900 0.0px,#ffae00 3.0px,#fffc00 8.0px,#58ffa7 20.1px,#03fffc 27.1px,#00faff 28.1px,#006dff 56.1px,#0000fe 94.2px,#0000b7 110.3px,#00009e 120.3px,#00009d 123.3px)"></div><div style="left:173.7px;top:210px;width:124.8px;background:linear-gradient(90deg,#ff7800 0.0px,#ffa600 4.0px,#fff600 9.1px,#f9ff06 10.1px,#5affa5 21.1px,#05fffa 28.2px,#00f8ff 29.2px,#0069ff 57.4px,#0001ff 94.6px,#0000b7 111.7px,#00009e 121.8px,#00009d 124.8px)"></div><div style="left:173.7px;top:212px;width:123.9px;background:linear-gradient(90deg,#ff7e00 0.0px,#ffb400 4.0px,#fff800 8.1px,#f7ff08 9.1px,#54ffab 20.1px,#0ff 27.2px,#00f4ff 28.2px,#00c2ff 37.3px,#0062ff 56.4px,#001aff 82.6px,#0001ff 92.6px,#0000b6 110.8px,#00009e 120.8px,#00009d 123.9px)"></div><div style="left:173.7px;top:214px;width:123.0px;background:linear-gradient(90deg,#ff8a00 0.0px,#ffb300 3.0px,#fffa00 7.1px,#f4ff0b 8.1px,#4fffb0 19.2px,#07fff8 25.2px,#00fbff 26.2px,#00f0ff 27.2px,#0bf 36.3px,#007fff 47.4px,#0060ff 54.4px,#0018ff 80.6px,#0001ff 90.7px,#0000b5 109.9px,#00009e 120.0px,#00009e 123.0px)"></div><div style="left:171.1px;top:216px;width:124.7px;background:linear-gradient(90deg,#ff7300 0.0px,#ffa900 4.0px,#ffe100 7.0px,#fcff03 9.1px,#4fb 21.1px,#00feff 27.2px,#00eaff 29.2px,#00beff 36.2px,#0071ff 50.3px,#0053ff 58.3px,#0015ff 81.5px,#0000fc 92.5px,#0000b1 112.6px,#00009e 121.7px,#00009e 124.7px)"></div><div style="left:171.1px;top:218px;width:123.9px;background:linear-gradient(90deg,#ff7f00 0.0px,#ffa800 3.0px,#fff400 7.1px,#f9ff06 8.1px,#3effc1 20.1px,#05fffa 25.2px,#00f9ff 26.2px,#00e5ff 28.2px,#00b0ff 36.3px,#006eff 48.4px,#004fff 56.4px,#0010ff 80.6px,#0000fb 90.7px,#0000b0 111.8px,#00009f 119.9px,#00009e 123.9px)"></div><div style="left:171.1px;top:220px;width:123.3px;background:linear-gradient(90deg,#ff8b00 0.0px,#ffa700 2.0px,#fff600 6.0px,#f8ff07 7.0px,#3affc5 19.0px,#02fffd 24.1px,#00f6ff 25.1px,#00e2ff 27.1px,#0af 35.1px,#0067ff 47.1px,#004aff 55.1px,#0012ff 77.2px,#0001ff 85.2px,#0000f6 90.2px,#0000b1 110.3px,#00009e 119.3px,#00009e 123.3px)"></div><div style="left:168.5px;top:222px;width:125.3px;background:linear-gradient(90deg,#ff7300 0.0px,#ffae00 4.0px,#fffe00 8.0px,#3effc1 20.0px,#04fffb 25.1px,#00f8ff 26.1px,#00e2ff 28.1px,#009bff 38.1px,#005eff 49.1px,#0043ff 57.1px,#00f 85.2px,#0000e7 96.2px,#0000b2 111.3px,#0000a0 120.3px,#00009f 125.3px)"></div><div style="left:168.5px;top:224px;width:124.1px;background:linear-gradient(90deg,#ff7f00 0.0px,#ffad00 3.0px,#ffef00 6.0px,#feff01 7.0px,#39ffc6 19.0px,#0ff 24.0px,#00deff 27.0px,#009aff 36.0px,#0056ff 48.0px,#0040ff 55.0px,#0000fe 82.1px,#0000e0 97.1px,#0000af 111.1px,#0000a0 119.1px,#00009f 124.1px)"></div><div style="left:165.9px;top:226px;width:122.2px;background:linear-gradient(90deg,#ff6800 0.0px,#ffa100 4.0px,#fff800 8.0px,#f5ff0a 9.0px,#2dffd2 21.0px,#01fffe 25.0px,#00d6ff 29.0px,#0097ff 37.1px,#004dff 50.1px,#0039ff 57.1px,#0023ff 68.1px,#00f 81.1px,#0000df 98.2px,#0000b2 111.2px,#00009f 122.2px)"></div><div style="left:165.9px;top:228px;width:119.6px;background:linear-gradient(90deg,#ff7300 0.0px,#ffa000 3.0px,#fffa00 7.0px,#f2ff0d 8.0px,#27ffd8 20.1px,#00fbff 24.1px,#00d1ff 28.1px,#008fff 36.2px,#0049ff 48.2px,#003aff 53.3px,#00f 78.4px,#0000da 98.5px,#0000b3 109.5px,#0000a0 119.6px)"></div><div style="left:165.9px;top:230px;width:117.0px;background:linear-gradient(90deg,#ff8100 0.0px,#ff9f00 2.0px,#fffb00 6.0px,#23ffdc 19.0px,#02fffd 22.0px,#00f7ff 23.0px,#00ceff 27.0px,#0089ff 35.0px,#003cff 49.0px,#0000fe 76.0px,#0000d7 98.0px,#0000b1 109.0px,#0000a3 117.0px)"></div><div style="left:163.3px;top:232px;width:119.6px;background:linear-gradient(90deg,#f60 0.0px,#ffa800 4.0px,#fff200 7.0px,#f9ff06 8.0px,#26ffd9 20.1px,#02fffd 23.1px,#00f7ff 24.1px,#007eff 37.2px,#0038ff 49.2px,#00f 75.4px,#00e 82.4px,#0000d5 99.5px,#0000ae 111.6px,#0000a1 119.6px)"></div><div style="left:163.3px;top:234px;width:117.0px;background:linear-gradient(90deg,#ff7400 0.0px,#ffa600 3.0px,#fff200 6.0px,#f7ff08 7.0px,#2fd 19.0px,#00feff 22.0px,#0078ff 36.0px,#0031ff 48.0px,#0000fe 73.0px,#0000ec 80.0px,#0000d5 98.0px,#0000af 110.0px,#0000a4 117.0px)"></div><div style="left:163.3px;top:236px;width:114.4px;background:linear-gradient(90deg,#ff8300 0.0px,#ffa600 2.0px,#fff500 5.0px,#f5ff0a 6.0px,#1cffe3 18.1px,#03fffc 20.1px,#00f8ff 21.1px,#0070ff 35.1px,#0029ff 47.2px,#0001ff 69.2px,#0000e7 79.3px,#0000d4 96.3px,#0000b0 108.4px,#0000a6 114.4px)"></div><div style="left:160.7px;top:238px;width:117.0px;background:linear-gradient(90deg,#ff6700 0.0px,#f90 3.0px,#feff01 7.1px,#9dff62 12.1px,#0dfff2 20.2px,#02fffd 21.2px,#00f8ff 22.2px,#006cff 36.3px,#0023ff 48.4px,#0000fe 69.6px,#0000e3 80.7px,#0000d1 98.8px,#0000af 109.9px,#0000a5 117.0px)"></div><div style="left:160.7px;top:240px;width:114.4px;background:linear-gradient(90deg,#ff7600 0.0px,#ff9800 2.0px,#fcff03 6.0px,#64ff9b 14.0px,#0afff5 19.1px,#00fdff 20.1px,#0067ff 35.1px,#001cff 47.2px,#00f 66.2px,#0000df 79.3px,#0000d0 97.3px,#0000ad 109.4px,#0000a7 114.4px)"></div><div style="left:158.1px;top:242px;width:117.0px;background:linear-gradient(90deg,#ff5a00 0.0px,#ff9f00 4.0px,#fff400 7.0px,#f3ff0c 8.0px,#7eff81 14.0px,#00feff 21.0px,#00bdff 28.0px,#005dff 37.0px,#0014ff 49.0px,#00f 65.0px,#0000da 81.0px,#0000cf 99.0px,#0000af 110.0px,#0000a5 117.0px)"></div><div style="left:158.1px;top:244px;width:114.4px;background:linear-gradient(90deg,#ff6800 0.0px,#ff9c00 3.0px,#fff200 6.0px,#f4ff0b 7.0px,#7eff81 13.0px,#00feff 20.1px,#00b1ff 28.1px,#005cff 36.1px,#0014ff 48.2px,#00f 61.2px,#0000d9 79.3px,#0000d0 97.3px,#0000b1 108.4px,#0000a8 114.4px)"></div><div style="left:158.1px;top:246px;width:111.8px;background:linear-gradient(90deg,#ff7600 0.0px,#f90 2.0px,#fff000 5.0px,#f5ff0a 6.0px,#7eff81 12.1px,#0efff1 18.1px,#00feff 19.1px,#00baff 26.2px,#0063ff 34.2px,#0016ff 46.3px,#0000fe 59.4px,#0000d9 77.6px,#0000d1 95.7px,#00a 111.8px)"></div><div style="left:155.5px;top:248px;width:114.4px;background:linear-gradient(90deg,#ff5800 0.0px,#ffa100 4.0px,#fff900 7.0px,#ef1 8.0px,#08fff7 20.1px,#00faff 21.1px,#00c1ff 27.1px,#0060ff 36.1px,#0016ff 48.2px,#00f 59.2px,#0000d8 78.3px,#0000d3 96.3px,#0000a8 114.4px)"></div><div style="left:155.5px;top:250px;width:111.8px;background:linear-gradient(90deg,#ff6700 0.0px,#ff9e00 3.0px,#fff700 6.0px,#efff10 7.1px,#07fff8 19.1px,#00faff 20.1px,#00c0ff 26.2px,#0068ff 34.2px,#0018ff 46.3px,#0000fe 57.4px,#0000d6 77.6px,#0000d5 94.7px,#0000ab 111.8px)"></div><div style="left:152.9px;top:252px;width:114.4px;background:linear-gradient(90deg,#ff5200 0.0px,#ff5a00 1.0px,#ff8e00 4.0px,#ffc100 6.0px,#ff0 8.0px,#98ff67 13.0px,#26ffd9 19.1px,#03fffc 21.1px,#00f6ff 22.1px,#00bcff 28.1px,#0065ff 36.1px,#05f 38.1px,#001cff 47.2px,#000fff 51.2px,#00f 57.2px,#0000d5 78.3px,#0000d7 95.3px,#0000a8 114.4px)"></div><div style="left:152.9px;top:254px;width:111.8px;background:linear-gradient(90deg,#ff5700 0.0px,#ffa200 4.0px,#fffe00 7.1px,#98ff67 12.1px,#12ffed 19.1px,#02fffd 20.1px,#00f5ff 21.2px,#0bf 27.2px,#006eff 34.2px,#0054ff 37.3px,#001bff 46.3px,#0008ff 52.4px,#00f 55.4px,#0000ed 62.4px,#0000d2 79.6px,#0000d7 94.7px,#0000ab 111.8px)"></div><div style="left:152.9px;top:256px;width:109.2px;background:linear-gradient(90deg,#f60 0.0px,#ff9e00 3.0px,#fffb00 6.0px,#27ffd8 17.0px,#04fffb 19.0px,#00f6ff 20.0px,#00bcff 26.0px,#006fff 33.1px,#05f 36.1px,#001cff 45.1px,#0002ff 53.1px,#0000ea 61.1px,#0000d3 75.1px,#0000d8 93.2px,#0000d0 98.2px,#0000ae 109.2px)"></div><div style="left:150.3px;top:258px;width:111.8px;background:linear-gradient(90deg,#ff4f00 0.0px,#ff5900 1.0px,#ff8e00 4.0px,#ffa500 5.0px,#ffe600 7.1px,#f9ff06 8.1px,#6aff95 15.1px,#0bfff4 20.1px,#00fcff 21.2px,#0057ff 37.3px,#001dff 46.3px,#00f 54.4px,#0000e9 61.4px,#0000d1 77.6px,#0000dc 90.6px,#0000d9 94.7px,#0000d3 98.7px,#00a 111.8px)"></div><div style="left:150.3px;top:260px;width:109.2px;background:linear-gradient(90deg,#ff5600 0.0px,#ffa100 4.0px,#fbff04 7.0px,#59ffa6 15.0px,#0dfff2 19.0px,#00fdff 20.0px,#0058ff 36.1px,#001eff 45.1px,#0000fe 53.1px,#0000e6 60.1px,#0000d0 76.1px,#00d 89.2px,#0000d7 96.2px,#0000ae 109.2px)"></div><div style="left:150.3px;top:262px;width:109.2px;background:linear-gradient(90deg,#ff6500 0.0px,#ff9e00 3.0px,#fdff02 6.0px,#6dff92 13.0px,#0dfff2 18.0px,#00fcff 19.0px,#0057ff 35.1px,#0023ff 43.1px,#00f 51.1px,#0000e2 59.1px,#0000d0 73.1px,#0000d0 78.1px,#0000df 87.2px,#0000d8 95.2px,#0000a9 109.2px)"></div><div style="left:147.7px;top:264px;width:109.2px;background:linear-gradient(90deg,#ff4b00 0.0px,#ff5800 1.0px,#ffa300 5.0px,#ffeb00 7.0px,#f5ff0a 8.0px,#8dff72 13.0px,#19ffe6 19.0px,#07fff8 20.0px,#00f8ff 21.0px,#005bff 36.1px,#0020ff 45.1px,#00f 52.1px,#0000e0 60.1px,#0000cf 74.1px,#0000ce 78.1px,#0000e0 88.2px,#0000db 96.2px,#0000ac 109.2px)"></div><div style="left:147.7px;top:266px;width:106.6px;background:linear-gradient(90deg,#f50 0.0px,#ffa000 4.0px,#ffe900 6.0px,#f6ff09 7.0px,#17ffe8 18.1px,#05fffa 19.1px,#00f7ff 20.1px,#0059ff 35.2px,#0019ff 45.3px,#0001ff 50.3px,#0000de 58.3px,#0000cd 74.4px,#0000e1 86.5px,#00d 94.5px,#0000b0 106.6px)"></div><div style="left:147.7px;top:268px;width:106.6px;background:linear-gradient(90deg,#ff6400 0.0px,#ff9d00 3.0px,#ffe600 5.0px,#f7ff08 6.0px,#79ff86 12.1px,#05fffa 18.1px,#00f7ff 19.1px,#0bf 25.1px,#0061ff 33.2px,#0024ff 42.2px,#0000fe 49.3px,#0000da 57.3px,#00c 72.4px,#0000cb 74.4px,#0000e3 85.5px,#0000e0 92.5px,#0000ab 106.6px)"></div><div style="left:145.1px;top:270px;width:106.6px;background:linear-gradient(90deg,#ff4800 0.0px,#ff8e00 4.0px,#ffa500 5.0px,#fff300 7.0px,#f0ff0f 8.0px,#5effa1 15.1px,#00fdff 20.1px,#00c1ff 26.1px,#005cff 35.2px,#001aff 45.3px,#0000fe 50.3px,#0000d7 58.3px,#0000ca 75.4px,#0000e4 85.5px,#0000e3 93.5px,#0000ad 106.6px)"></div><div style="left:145.1px;top:272px;width:106.6px;background:linear-gradient(90deg,#ff5400 0.0px,#ffa100 4.0px,#fff000 6.0px,#f1ff0e 7.0px,#72ff8d 13.1px,#00fdff 19.1px,#005cff 34.2px,#0002ff 48.3px,#0000d4 57.3px,#0000c9 73.4px,#0000e6 84.5px,#0000e6 91.5px,#0000ae 104.6px,#0000ad 106.6px)"></div><div style="left:145.1px;top:274px;width:104.0px;background:linear-gradient(90deg,#ff6200 0.0px,#ff9a00 3.0px,#ffe500 5.0px,#faff05 6.0px,#90ff6f 11.0px,#1affe5 17.0px,#08fff7 18.0px,#00fcff 19.0px,#0063ff 33.0px,#0019ff 44.0px,#0000fc 49.0px,#00d 55.0px,#0000ce 72.0px,#0000e7 82.0px,#0000e6 89.0px,#0000ad 102.0px,#0000ac 104.0px)"></div><div style="left:142.5px;top:276px;width:104.0px;background:linear-gradient(90deg,#ff4b00 0.0px,#ff5400 1.0px,#ff9e00 5.0px,#ffea00 7.0px,#f9ff06 8.0px,#1affe5 19.0px,#02fffd 21.0px,#00f6ff 22.0px,#006eff 34.0px,#0021ff 45.0px,#0000fe 51.0px,#0000e4 56.0px,#0000d3 72.0px,#0000e9 82.0px,#0000e6 90.0px,#0000ac 102.0px,#0000ab 104.0px)"></div><div style="left:142.5px;top:278px;width:104.0px;background:linear-gradient(90deg,#ff5000 0.0px,#f90 4.0px,#ffe000 6.0px,#fffd00 7.0px,#23ffdc 18.0px,#00feff 21.0px,#0075ff 33.0px,#0026ff 44.0px,#0003ff 50.0px,#0000eb 55.0px,#0000d8 70.0px,#0000ea 80.0px,#0000e8 87.0px,#00a 100.0px,#00a 104.0px)"></div><div style="left:142.5px;top:280px;width:101.4px;background:linear-gradient(90deg,#ff5f00 0.0px,#ff9500 3.0px,#fff600 6.0px,#f3ff0c 7.0px,#2affd5 17.1px,#06fff9 20.1px,#00f9ff 21.1px,#0082ff 31.1px,#0030ff 42.2px,#0001ff 50.2px,#0000f3 53.2px,#00d 68.3px,#0000ec 77.3px,#0000e9 84.3px,#0000df 87.3px,#0000a9 97.4px,#0000a9 101.4px)"></div><div style="left:139.9px;top:282px;width:104.0px;background:linear-gradient(90deg,#ff5100 0.0px,#ff5100 1.0px,#f90 5.0px,#fd0 7.1px,#fff800 8.1px,#f1ff0e 9.1px,#3cffc3 18.2px,#13ffec 21.2px,#00faff 23.2px,#0083ff 33.3px,#0030ff 44.4px,#0001ff 52.5px,#0000e2 68.7px,#0000ed 77.7px,#0000ea 84.8px,#0000de 87.8px,#0000a9 96.9px,#0000a9 104.0px)"></div><div style="left:139.9px;top:284px;width:101.4px;background:linear-gradient(90deg,#ff5300 0.0px,#ff5f00 1.0px,#ff9400 4.0px,#ffef00 7.0px,#faff05 8.0px,#35ffca 18.1px,#04fffb 22.1px,#00f8ff 23.1px,#008aff 32.1px,#0021ff 46.2px,#0003ff 52.2px,#0000fa 58.2px,#0000e6 67.3px,#0000ef 75.3px,#0000eb 82.3px,#0000df 85.3px,#0000a8 94.4px,#0000a8 101.4px)"></div><div style="left:139.9px;top:286px;width:101.4px;background:linear-gradient(90deg,#ff5b00 0.0px,#ff9000 3.0px,#ffa800 4.0px,#ffe800 6.0px,#fffc00 7.0px,#3dffc2 17.1px,#00feff 22.1px,#0090ff 31.1px,#0024ff 45.2px,#000cff 50.2px,#00f 57.2px,#0000eb 65.3px,#0000f1 73.3px,#0000eb 80.3px,#0000e4 82.3px,#0000a9 91.4px,#0000a7 101.4px)"></div><div style="left:139.9px;top:288px;width:98.8px;background:linear-gradient(90deg,#ff6900 0.0px,#ffa000 3.0px,#ffe100 5.0px,#fff500 6.0px,#f5ff0a 7.1px,#45ffba 16.1px,#05fffa 21.2px,#00f7ff 22.2px,#00a8ff 28.2px,#0095ff 30.2px,#002dff 43.4px,#0013ff 48.4px,#0000fd 58.5px,#0000ef 63.5px,#0000f2 71.6px,#0000ec 77.6px,#0000e0 80.7px,#0000c0 84.7px,#0000a9 88.7px,#0000a6 98.8px)"></div><div style="left:137.3px;top:290px;width:99.6px;background:linear-gradient(90deg,#ff5900 0.0px,#ff5b00 1.0px,#ff9000 4.0px,#ffa600 5.0px,#ffe200 7.0px,#fff500 8.1px,#f5ff0a 9.1px,#57ffa8 17.1px,#07fff8 23.1px,#00f8ff 24.2px,#009fff 31.2px,#0035ff 44.3px,#001bff 49.3px,#00f 60.4px,#0000f3 64.4px,#00e 77.5px,#0000e3 80.5px,#00b 85.5px,#0000a5 89.6px,#0000a5 99.6px)"></div><div style="left:137.3px;top:292px;width:93.5px;background:linear-gradient(90deg,#ff5b00 0.0px,#ff9e00 4.0px,#ffda00 6.0px,#fdff02 8.0px,#5fffa0 16.1px,#0ff 23.1px,#00a5ff 30.2px,#0037ff 43.3px,#0024ff 47.3px,#0015ff 54.3px,#0000fd 60.4px,#0000f4 64.4px,#0000f0 74.4px,#0000e8 77.5px,#0000bd 82.5px,#0000a5 86.5px,#0000a4 93.5px)"></div><div style="left:137.3px;top:294px;width:88.7px;background:linear-gradient(90deg,#f60 0.0px,#f90 3.0px,#ffd200 5.0px,#fffa00 7.1px,#f1ff0e 8.1px,#67ff98 15.1px,#05fffa 22.2px,#00f6ff 23.2px,#00b3ff 28.2px,#0041ff 41.3px,#002cff 45.3px,#0018ff 53.4px,#0000fe 59.4px,#00e 73.6px,#0000e6 75.6px,#0000c0 79.6px,#0000a6 83.6px,#0000a3 88.7px)"></div><div style="left:137.3px;top:296px;width:84.4px;background:linear-gradient(90deg,#ff7300 0.0px,#ff9500 2.0px,#ffde00 5.0px,#f9ff06 7.0px,#70ff8f 14.1px,#00fdff 22.1px,#00b9ff 27.1px,#004cff 39.2px,#0036ff 43.2px,#0020ff 51.2px,#0001ff 58.3px,#0000ef 71.3px,#0000e5 73.3px,#0000bd 77.4px,#0000a3 81.4px,#0000a3 84.4px)"></div><div style="left:134.7px;top:298px;width:83.9px;background:linear-gradient(90deg,#ff6100 0.0px,#f60 1.0px,#f90 4.0px,#ffcd00 6.1px,#fff300 8.1px,#f8ff07 9.1px,#71ff8e 16.2px,#0afff5 23.2px,#00faff 24.2px,#00cfff 27.3px,#00b0ff 30.3px,#0051ff 40.4px,#003cff 44.5px,#0028ff 51.5px,#0002ff 59.6px,#0000ef 71.7px,#0000e4 73.8px,#0000ba 77.8px,#0000a5 80.8px,#0000a2 83.9px)"></div><div style="left:134.7px;top:300px;width:80.7px;background:linear-gradient(90deg,#ff6300 0.0px,#ff9500 3.0px,#ffc400 5.0px,#fffe00 8.1px,#7aff85 15.1px,#01fffe 23.2px,#00c9ff 27.2px,#005dff 38.3px,#0045ff 42.3px,#0030ff 49.4px,#0002ff 58.5px,#0000f2 68.6px,#0000eb 70.6px,#0000bf 74.6px,#0000a2 78.6px,#0000a1 80.7px)"></div><div style="left:134.7px;top:302px;width:77.3px;background:linear-gradient(90deg,#ff7000 0.0px,#ff9100 2.0px,#fff500 7.0px,#f6ff09 8.0px,#73ff8c 15.1px,#08fff7 22.1px,#00f7ff 23.1px,#00cfff 26.1px,#0060ff 37.1px,#004fff 40.2px,#0034ff 48.2px,#0006ff 56.2px,#00f 60.2px,#0000f3 66.3px,#0000ec 68.3px,#0000bc 72.3px,#0000a0 76.3px,#0000a0 77.3px)"></div><div style="left:134.7px;top:304px;width:74.2px;background:linear-gradient(90deg,#ff7d00 0.0px,#ff9e00 2.0px,#feff01 7.0px,#6aff95 15.0px,#00fcff 22.1px,#00d4ff 25.1px,#0062ff 36.1px,#003bff 46.1px,#0009ff 54.1px,#00f 59.2px,#0000ef 65.2px,#0000ea 66.2px,#0000b8 70.2px,#00009f 74.2px)"></div><div style="left:132.1px;top:306px;width:73.7px;background:linear-gradient(90deg,#ff6900 0.0px,#ff7100 1.0px,#ff9100 3.0px,#feff01 9.1px,#68ff97 17.2px,#08fff7 23.2px,#00f8ff 24.2px,#00e8ff 25.2px,#0068ff 37.3px,#04f 46.4px,#000dff 54.5px,#0001ff 59.6px,#0000f0 65.6px,#0000be 69.6px,#00009e 73.7px)"></div><div style="left:132.1px;top:308px;width:71.0px;background:linear-gradient(90deg,#ff6e00 0.0px,#ff9d00 3.0px,#fff700 8.0px,#f6ff09 9.0px,#71ff8e 16.0px,#0ff 23.0px,#00efff 24.0px,#0bf 29.0px,#0073ff 35.0px,#0048ff 45.0px,#000dff 53.0px,#0001ff 58.0px,#0000f1 63.0px,#0000eb 64.0px,#0000bf 67.0px,#00009e 71.0px)"></div><div style="left:132.1px;top:310px;width:70.1px;background:linear-gradient(90deg,#ff7a00 0.0px,#fdff02 8.0px,#6f9 16.0px,#03fffc 22.0px,#00f3ff 23.0px,#00c9ff 27.1px,#007eff 33.1px,#004fff 43.1px,#000fff 51.1px,#0001ff 56.1px,#0000f0 61.1px,#0000b7 65.1px,#00009e 68.1px,#00009d 70.1px)"></div><div style="left:132.1px;top:312px;width:69.3px;background:linear-gradient(90deg,#ff8700 0.0px,#fff900 7.0px,#f3ff0c 8.0px,#7dff82 14.1px,#05fffa 21.1px,#00f7ff 22.1px,#007fff 32.1px,#0056ff 41.2px,#0017ff 48.2px,#0001ff 54.2px,#0000f3 58.2px,#0000ec 59.2px,#00b 62.2px,#0000a0 65.3px,#00009c 69.3px)"></div><div style="left:129.5px;top:314px;width:71.0px;background:linear-gradient(90deg,#ff7200 0.0px,#ff7a00 1.0px,#ffb600 5.1px,#fffa00 9.1px,#f1ff0e 10.1px,#7bff84 16.2px,#04fffb 23.3px,#00f7ff 24.3px,#0080ff 34.5px,#005cff 42.6px,#0016ff 50.7px,#00f 56.8px,#0000f0 60.8px,#0000c0 63.9px,#0000a2 66.9px,#00009c 67.9px,#00009c 71.0px)"></div><div style="left:129.5px;top:316px;width:70.1px;background:linear-gradient(90deg,#ff7600 0.0px,#fbff04 9.0px,#75ff8a 16.0px,#02fffd 23.0px,#00d6ff 27.0px,#008aff 33.0px,#005eff 42.1px,#0019ff 50.1px,#0002ff 56.1px,#0000f0 60.1px,#0000b6 64.1px,#0000a4 66.1px,#00009c 67.1px,#00009c 70.1px)"></div><div style="left:129.5px;top:318px;width:69.1px;background:linear-gradient(90deg,#ff8100 0.0px,#fffc00 8.0px,#6cff93 16.0px,#0afff5 22.0px,#00fcff 23.0px,#00d2ff 27.0px,#08f 33.0px,#005cff 42.1px,#001aff 50.1px,#0001ff 56.1px,#0000f1 59.1px,#0000b0 64.1px,#00009f 66.1px,#00009c 69.1px)"></div><div style="left:126.9px;top:320px;width:70.7px;background:linear-gradient(90deg,#ff7d00 0.0px,#ff8300 2.0px,#fffe00 10.1px,#5affa5 19.2px,#09fff6 24.2px,#00fcff 25.2px,#00d2ff 29.3px,#0092ff 34.3px,#0063ff 43.4px,#0020ff 51.5px,#0000fe 58.6px,#0000f4 60.6px,#00e 61.6px,#0000c0 64.6px,#0000ab 66.6px,#00009c 68.7px,#00009c 70.7px)"></div><div style="left:126.9px;top:322px;width:69.7px;background:linear-gradient(90deg,#ff8100 0.0px,#ff8100 1.0px,#fff700 9.1px,#f6ff09 10.1px,#51ffae 19.2px,#03fffc 24.2px,#00f7ff 25.2px,#00d9ff 28.3px,#008fff 34.3px,#0062ff 43.4px,#0026ff 50.5px,#0002ff 57.6px,#0000f0 60.6px,#0000b8 64.6px,#00009d 67.7px,#00009c 69.7px)"></div><div style="left:126.9px;top:324px;width:68.7px;background:linear-gradient(90deg,#ff8500 0.0px,#ff8a00 1.0px,#fcff03 9.1px,#59ffa6 18.2px,#0afff5 23.2px,#00fdff 24.2px,#00d5ff 28.3px,#00a2ff 32.3px,#008fff 34.3px,#0067ff 42.4px,#0025ff 50.5px,#0000fe 57.6px,#0000ea 60.6px,#0000b2 64.6px,#0000a1 66.6px,#00009c 68.7px)"></div><div style="left:126.9px;top:326px;width:67.7px;background:linear-gradient(90deg,#f80 0.0px,#fffb00 8.1px,#f2ff0d 9.1px,#72ff8d 16.2px,#41ffbe 19.2px,#05fffa 23.2px,#00f9ff 24.2px,#0df 27.3px,#0094ff 33.3px,#06f 42.4px,#002aff 49.5px,#0003ff 56.5px,#00e 59.6px,#0000c2 62.6px,#0000a4 65.6px,#00009c 67.7px)"></div><div style="left:124.3px;top:328px;width:69.2px;background:linear-gradient(90deg,#ff8c00 0.0px,#ff8c00 2.0px,#ff9700 3.0px,#fffb00 10.0px,#f3ff0c 11.0px,#53ffac 20.1px,#09fff6 25.1px,#00fcff 26.1px,#00e2ff 29.1px,#09f 35.1px,#006aff 44.2px,#0030ff 51.2px,#0000fe 59.2px,#0000e5 62.2px,#0000b0 66.2px,#00009c 69.2px)"></div><div style="left:124.3px;top:330px;width:68.2px;background:linear-gradient(90deg,#ff9000 0.0px,#ff9400 2.0px,#fff500 9.0px,#f9ff06 10.0px,#5bffa4 19.1px,#10ffef 24.1px,#00f8ff 26.1px,#00deff 29.1px,#09f 35.1px,#006fff 43.1px,#002fff 51.2px,#0002ff 58.2px,#0000eb 61.2px,#0000bf 64.2px,#00009c 68.2px)"></div><div style="left:124.3px;top:332px;width:67.2px;background:linear-gradient(90deg,#ff9300 0.0px,#ff9300 1.0px,#ff9e00 2.0px,#ff0 9.0px,#53ffac 19.1px,#00feff 25.1px,#00e5ff 28.1px,#009eff 34.1px,#006eff 43.1px,#0035ff 50.1px,#0000fd 58.2px,#0000ed 60.2px,#0000b8 64.2px,#00009d 67.2px)"></div><div style="left:121.7px;top:334px;width:69.6px;background:linear-gradient(90deg,#ff9700 0.0px,#ff9700 3.0px,#feff01 11.1px,#52ffad 21.2px,#00feff 27.2px,#00e6ff 30.3px,#00a0ff 36.3px,#006fff 45.4px,#0004ff 59.5px,#0000e9 62.6px,#0000b4 66.6px,#00009c 69.6px)"></div><div style="left:121.7px;top:336px;width:69.4px;background:linear-gradient(90deg,#ff9b00 0.0px,#ff9e00 3.0px,#fffa00 10.1px,#e4ff1b 12.1px,#4bffb4 21.1px,#13ffec 25.2px,#00fbff 27.2px,#00e3ff 30.2px,#00a8ff 35.2px,#0075ff 44.3px,#0001ff 59.4px,#0000e3 62.4px,#0000b0 66.4px,#00009e 68.4px,#00009c 69.4px)"></div><div style="left:121.7px;top:338px;width:69.2px;background:linear-gradient(90deg,#ff9e00 0.0px,#ff9e00 2.0px,#ffa700 3.0px,#fbff04 10.0px,#53ffac 20.1px,#0efff1 25.1px,#00f9ff 27.1px,#00ebff 29.1px,#00a7ff 35.1px,#0074ff 44.2px,#0007ff 58.2px,#0000fc 59.2px,#0000e9 61.2px,#0000c0 64.2px,#0000ac 66.2px,#00009c 68.2px,#00009c 69.2px)"></div><div style="left:121.7px;top:340px;width:69.1px;background:linear-gradient(90deg,#ffa200 0.0px,#ffa500 2.0px,#fffe00 9.0px,#5bffa4 19.0px,#00feff 26.0px,#00e8ff 29.0px,#00aeff 34.0px,#0065ff 46.0px,#0003ff 58.1px,#00e 60.1px,#00b 64.1px,#00009f 67.1px,#00009c 69.1px)"></div><div style="left:119.1px;top:342px;width:71.5px;background:linear-gradient(90deg,#ffa600 0.0px,#ffa700 4.0px,#ff0 11.1px,#5affa5 21.1px,#0ff 28.2px,#00f3ff 30.2px,#00b0ff 36.2px,#007bff 45.3px,#0057ff 50.3px,#00f 60.4px,#0000b7 66.4px,#00009c 69.5px,#00009c 71.5px)"></div><div style="left:119.1px;top:344px;width:71.3px;background:linear-gradient(90deg,#ffa900 0.0px,#ffa900 3.0px,#fffb00 10.0px,#f6ff09 11.0px,#53ffac 21.1px,#06fff9 27.1px,#00feff 28.1px,#00f1ff 30.1px,#00afff 36.1px,#0081ff 44.2px,#0057ff 50.2px,#0007ff 59.2px,#0000fb 60.2px,#0000bd 65.3px,#0000a0 68.3px,#00009c 71.3px)"></div><div style="left:119.1px;top:346px;width:71.1px;background:linear-gradient(90deg,#ffad00 0.0px,#ffae00 3.0px,#fbff04 10.0px,#4dffb2 21.0px,#03fffc 27.0px,#00fdff 28.0px,#0ef 30.0px,#00beff 34.1px,#005eff 49.1px,#0002ff 59.1px,#0000b8 65.1px,#00009c 68.1px,#00009c 71.1px)"></div><div style="left:119.1px;top:348px;width:70.9px;background:linear-gradient(90deg,#ffb100 0.0px,#ffb100 2.0px,#ffb800 3.0px,#feff01 9.1px,#50ffaf 20.3px,#1fe 25.3px,#0ff 27.4px,#00f1ff 29.4px,#00b9ff 34.4px,#0060ff 48.6px,#0018ff 56.7px,#0000fe 58.8px,#0000bf 63.8px,#0000a2 66.9px,#00009c 67.9px,#00009c 70.9px)"></div><div style="left:119.1px;top:350px;width:70.7px;background:linear-gradient(90deg,#ffb400 0.0px,#ffb600 2.0px,#fffc00 8.1px,#f6ff09 9.1px,#57ffa8 19.2px,#0dfff2 25.3px,#0ff 27.3px,#00f9ff 28.3px,#00c0ff 33.3px,#0060ff 48.5px,#0007ff 57.6px,#0000f9 58.6px,#0000c5 62.7px,#00009e 66.7px,#00009c 70.7px)"></div><div style="left:119.1px;top:352px;width:70.5px;background:linear-gradient(90deg,#ffb800 0.0px,#ffbf00 2.0px,#fff900 7.1px,#faff05 8.1px,#a2ff5d 14.1px,#51ffae 19.1px,#09fff6 25.2px,#00feff 27.2px,#00c0ff 33.3px,#005fff 48.4px,#001bff 55.4px,#0001ff 57.4px,#0000c0 62.5px,#0000a3 65.5px,#00009c 66.5px,#00009c 70.5px)"></div><div style="left:116.5px;top:354px;width:73.0px;background:linear-gradient(90deg,#ffb800 0.0px,#ffb800 3.0px,#fff900 9.1px,#faff05 10.1px,#efff10 11.1px,#54ffab 21.3px,#0cfff3 27.4px,#02fffd 29.4px,#00f9ff 30.4px,#00c2ff 35.5px,#005fff 50.7px,#001bff 57.8px,#0002ff 59.8px,#0000c1 64.9px,#00009c 68.9px,#00009c 73.0px)"></div><div style="left:116.5px;top:356px;width:72.8px;background:linear-gradient(90deg,#ffb800 0.0px,#fb0 3.0px,#fffe00 9.1px,#e8ff17 11.1px,#5dffa2 20.2px,#16ffe9 26.3px,#02fffd 29.3px,#00c9ff 34.4px,#005dff 50.5px,#0002ff 59.6px,#0000c2 64.7px,#00009c 68.7px,#00009c 72.8px)"></div><div style="left:116.5px;top:358px;width:72.6px;background:linear-gradient(90deg,#ffb800 0.0px,#ffb800 2.0px,#fff900 8.1px,#fbff04 9.1px,#5bffa4 20.2px,#15ffea 26.2px,#02fffd 29.2px,#00c9ff 34.3px,#0064ff 49.4px,#0023ff 56.5px,#0001ff 59.5px,#0000c2 64.5px,#00009d 68.6px,#00009c 72.6px)"></div><div style="left:116.5px;top:360px;width:72.4px;background:linear-gradient(90deg,#ffb800 0.0px,#ffbc00 2.0px,#fffe00 8.0px,#e9ff16 10.1px,#58ffa7 20.1px,#13ffec 26.1px,#0ff 29.2px,#00caff 34.2px,#005aff 50.3px,#0001ff 59.3px,#0000c3 64.4px,#00009e 68.4px,#00009c 72.4px)"></div><div style="left:116.5px;top:362px;width:72.2px;background:linear-gradient(90deg,#ffb800 0.0px,#ffb800 1.0px,#fbff04 8.0px,#61ff9e 19.1px,#14ffeb 26.1px,#00feff 29.1px,#00caff 34.1px,#0061ff 49.2px,#00f 59.2px,#0000c4 64.2px,#00009e 68.2px,#00009c 72.2px)"></div><div style="left:113.9px;top:364px;width:74.6px;background:linear-gradient(90deg,#ffb800 0.0px,#ffb800 3.0px,#fcff03 10.1px,#64ff9b 21.2px,#17ffe8 28.2px,#01fffe 31.3px,#0cf 36.3px,#0061ff 51.4px,#0001ff 61.5px,#0000c5 66.6px,#0000a0 70.6px,#00009c 74.6px)"></div><div style="left:113.9px;top:366px;width:74.5px;background:linear-gradient(90deg,#ffb800 0.0px,#ffbe00 3.0px,#fffd00 9.1px,#f7ff08 10.1px,#62ff9d 21.1px,#1fffe0 27.2px,#0ff 31.2px,#00d4ff 35.2px,#0057ff 52.3px,#00f 61.4px,#0000c6 66.4px,#0000a0 70.4px,#00009c 74.5px)"></div><div style="left:113.9px;top:368px;width:74.3px;background:linear-gradient(90deg,#ffb800 0.0px,#ffba00 2.0px,#fcff03 9.0px,#6bff94 20.1px,#1effe1 27.1px,#00feff 31.1px,#00d4ff 35.1px,#005eff 51.2px,#00f 61.2px,#0000c6 66.2px,#0000a1 70.3px,#00009c 74.3px)"></div><div style="left:113.9px;top:370px;width:74.1px;background:linear-gradient(90deg,#ffb800 0.0px,#ffb800 1.0px,#fffd00 8.0px,#f7ff08 9.0px,#69ff96 20.0px,#1effe1 27.0px,#00fdff 31.0px,#00d4ff 35.0px,#0085ff 45.1px,#005dff 51.1px,#0000fe 61.1px,#0000a2 70.1px,#00009c 71.1px,#00009c 74.1px)"></div><div style="left:113.9px;top:372px;width:73.9px;background:linear-gradient(90deg,#ffb800 0.0px,#fb0 1.0px,#fbff04 8.1px,#6eff91 19.2px,#23ffdc 26.3px,#03fffc 30.4px,#00f7ff 31.4px,#00d8ff 34.4px,#008fff 43.5px,#05f 51.6px,#00f 60.7px,#0000bf 66.8px,#00009c 70.9px,#00009c 73.9px)"></div><div style="left:113.9px;top:374px;width:73.8px;background:linear-gradient(90deg,#ffb800 0.0px,#fffe00 7.1px,#6cff93 19.2px,#2cffd3 25.3px,#01fffe 30.3px,#008dff 43.5px,#005bff 50.6px,#0000fe 60.7px,#0000a3 69.8px,#00009c 70.8px,#00009c 73.8px)"></div><div style="left:111.3px;top:376px;width:76.4px;background:linear-gradient(90deg,#ffb800 0.0px,#ffb800 2.0px,#fffc00 9.0px,#f8ff07 10.0px,#71ff8e 21.1px,#28ffd7 28.1px,#00fcff 33.2px,#0089ff 46.2px,#0058ff 53.3px,#0000fb 63.3px,#0000a3 72.3px,#00009c 73.3px,#00009c 76.4px)"></div><div style="left:111.3px;top:378px;width:76.3px;background:linear-gradient(90deg,#ffb800 0.0px,#ffbd00 2.0px,#fdff02 9.0px,#6fff90 21.1px,#31ffce 27.1px,#06fff9 32.1px,#00faff 33.1px,#0087ff 46.2px,#0056ff 53.2px,#0005ff 62.2px,#0000fa 63.2px,#0000a3 72.3px,#00009c 73.3px,#00009c 76.3px)"></div><div style="left:111.3px;top:380px;width:76.2px;background:linear-gradient(90deg,#ffb800 0.0px,#ffb900 1.0px,#fffc00 8.0px,#f8ff07 9.0px,#7f8 20.1px,#30ffcf 27.1px,#04fffb 32.1px,#00f9ff 33.1px,#0085ff 46.1px,#005cff 52.2px,#0003ff 62.2px,#0000a3 72.2px,#00009c 73.2px,#00009c 76.2px)"></div><div style="left:111.3px;top:382px;width:76.2px;background:linear-gradient(90deg,#ffb800 0.0px,#fdff02 8.0px,#7fff80 19.0px,#2fffd0 27.1px,#03fffc 32.1px,#00f8ff 33.1px,#00bdff 40.1px,#008bff 45.1px,#005aff 52.1px,#0002ff 62.1px,#0000a2 72.1px,#00009c 73.1px,#00009c 76.2px)"></div><div style="left:111.3px;top:384px;width:76.1px;background:linear-gradient(90deg,#fb0 0.0px,#fffc00 7.0px,#f8ff07 8.0px,#7dff82 19.0px,#01fffe 32.0px,#00c5ff 39.0px,#0089ff 45.1px,#0058ff 52.1px,#00f 62.1px,#0000a2 72.1px,#00009c 73.1px,#00009c 76.1px)"></div><div style="left:111.3px;top:386px;width:76.0px;background:linear-gradient(90deg,#ffc000 0.0px,#fdff02 7.0px,#8fff70 17.0px,#0ff 32.0px,#00c4ff 39.0px,#0086ff 45.0px,#0065ff 50.0px,#0000fe 62.0px,#0000a2 72.0px,#00009c 73.0px,#00009c 76.0px)"></div><div style="left:111.3px;top:388px;width:75.9px;background:linear-gradient(90deg,#ffc500 0.0px,#fffd00 6.1px,#76ff89 19.2px,#05fffa 31.4px,#00faff 32.4px,#00c8ff 38.5px,#08f 44.6px,#0056ff 51.6px,#0000fe 61.8px,#0000a3 71.9px,#00009c 72.9px,#00009c 75.9px)"></div><div style="left:108.7px;top:390px;width:78.5px;background:linear-gradient(90deg,#ffb800 0.0px,#ffbc00 1.0px,#fffc00 8.0px,#f9ff06 9.1px,#7bff84 21.1px,#01fffe 34.2px,#00c4ff 41.3px,#0084ff 47.3px,#005bff 53.3px,#0000fc 64.4px,#0000a2 74.5px,#00009c 75.5px,#00009c 78.5px)"></div><div style="left:108.7px;top:392px;width:78.4px;background:linear-gradient(90deg,#ffb800 0.0px,#feff01 8.0px,#8cff73 19.1px,#0ff 34.2px,#00cdff 40.2px,#0083ff 47.2px,#0059ff 53.3px,#0004ff 63.3px,#0000a2 74.4px,#00009c 75.4px,#00009c 78.4px)"></div><div style="left:108.7px;top:394px;width:78.3px;background:linear-gradient(90deg,#ffbe00 0.0px,#fffb00 7.0px,#f9ff06 8.0px,#9dff62 17.1px,#00feff 34.1px,#00cbff 40.2px,#0089ff 46.2px,#005fff 52.2px,#0002ff 63.3px,#0000a2 74.3px,#00009c 75.3px,#00009c 78.3px)"></div><div style="left:108.7px;top:396px;width:78.3px;background:linear-gradient(90deg,#ffc300 0.0px,#feff01 7.0px,#adff52 15.1px,#00fdff 34.1px,#00caff 40.1px,#0086ff 46.2px,#0064ff 51.2px,#0001ff 63.2px,#0000a2 74.3px,#00009c 75.3px,#00009c 78.3px)"></div><div style="left:108.7px;top:398px;width:78.2px;background:linear-gradient(90deg,#ffc500 0.0px,#fcff03 7.0px,#b5ff4a 14.0px,#00fdff 34.1px,#00c9ff 40.1px,#0085ff 46.1px,#005cff 52.1px,#00f 63.2px,#0000a2 74.2px,#00009c 75.2px,#00009c 78.2px)"></div><div style="left:108.7px;top:400px;width:78.1px;background:linear-gradient(90deg,#ffc500 0.0px,#fcff03 7.0px,#acff53 15.0px,#00fdff 34.1px,#00caff 40.1px,#0085ff 46.1px,#005cff 52.1px,#0001ff 63.1px,#0000a2 74.1px,#00009c 75.1px,#00009c 78.1px)"></div><div style="left:106.1px;top:402px;width:80.7px;background:linear-gradient(90deg,#ffb800 0.0px,#ffb800 1.0px,#fffd00 9.1px,#01fffe 36.3px,#00cdff 42.3px,#0080ff 49.4px,#005eff 54.4px,#0002ff 65.5px,#00009c 77.6px,#00009c 80.7px)"></div><div style="left:106.1px;top:404px;width:80.6px;background:linear-gradient(90deg,#ffb800 0.0px,#ffb800 1.0px,#fffd00 9.1px,#01fffe 36.3px,#00ceff 42.3px,#0089ff 48.4px,#005eff 54.4px,#0002ff 65.5px,#00009c 77.6px,#00009c 80.6px)"></div><div style="left:106.1px;top:406px;width:80.5px;background:linear-gradient(90deg,#ffb800 0.0px,#ffb800 1.0px,#fffd00 9.1px,#14ffeb 34.2px,#02fffd 36.2px,#00f8ff 37.2px,#00ceff 42.3px,#0081ff 49.3px,#005eff 54.4px,#0003ff 65.4px,#00009c 77.5px,#00009c 80.5px)"></div><div style="left:106.1px;top:408px;width:80.5px;background:linear-gradient(90deg,#ffb800 0.0px,#ffb800 1.0px,#fffd00 9.1px,#14ffeb 34.2px,#02fffd 36.2px,#00f8ff 37.2px,#00ceff 42.2px,#0081ff 49.3px,#005fff 54.3px,#0003ff 65.4px,#00009c 77.4px,#00009c 80.5px)"></div><div style="left:106.1px;top:410px;width:80.4px;background:linear-gradient(90deg,#ffb800 0.0px,#ffb800 1.0px,#fffd00 9.0px,#0bfff4 35.2px,#00f9ff 37.2px,#00cfff 42.2px,#0081ff 49.2px,#005fff 54.3px,#0004ff 65.3px,#00009d 77.4px,#00009c 80.4px)"></div><div style="left:106.1px;top:412px;width:80.3px;background:linear-gradient(90deg,#ffb800 0.0px,#ffb800 1.0px,#fffd00 9.0px,#02fffd 36.1px,#00f9ff 37.1px,#00cfff 42.2px,#0082ff 49.2px,#0058ff 55.2px,#0004ff 65.3px,#0000f3 67.3px,#00009e 77.3px,#00009c 80.3px)"></div></div>
<svg class="abs" style="left:0;top:0;will-change:transform" width="1096" height="780" viewBox="0 0 1096 780">
<defs><clipPath id="ell"><ellipse cx="983.5" cy="295.3" rx="314" ry="263"/></clipPath><clipPath id="cland"><path d="M984.0 295.0L1081.0 253.5L1081.0 441.0L833.0 441.0L836.0 385.0L845.0 362.0L860.0 343.0L878.0 328.0L892.0 316.0L910.7 335.0L929.0 328.3L950.2 316.4L964.0 306.5Z"/></clipPath><clipPath id="clag"><path d="M935.0 255.0L962.0 236.0L990.0 208.0L1016.0 171.0L1036.0 143.0L1044.6 126.0L1056.0 103.3L1064.4 100.5L1081.0 92.0L1081.0 253.5L984.0 295.0L964.0 306.5L950.2 316.4L929.0 328.3L910.7 335.0L892.0 316.0L912.0 285.0Z"/></clipPath><clipPath id="cright"><path d="M1006 322L1081 292L1081 441L982 441L994 394L1004.6 373L1009.7 347.7Z"/></clipPath><clipPath id="clensl"><path d="M976 300L945 312L928 330L920 360L917 400L918 420L988 405L976 375L973 350L974 330L978 310Z"/></clipPath><clipPath id="cfan"><path d="M984 295L1081 253.5L1081 292L1006 322L987 302Z"/></clipPath><clipPath id="cchan"><path d="M990 300L1003 315L1008 335L1008 350L1003 375L995 395L988 405L982 395L976 375L973 350L974 330L978 310L982 300Z"/></clipPath><clipPath id="cbl"><path d="M833 441L836 385L845 368L920 368L917 441Z"/></clipPath><clipPath id="cup"><path d="M850 150H1081V253.5L984 295L915 330L850 340Z"/></clipPath><filter id="fst" filterUnits="userSpaceOnUse" x="560" y="-60" width="620" height="600" color-interpolation-filters="sRGB"><feTurbulence type="fractalNoise" baseFrequency="0.15 0.42" numOctaves="1" seed="7" result="n0"/><feColorMatrix in="n0" type="matrix" values="1 0 0 0 0 0 1 0 0 0 0 0 1 0 0 0 0 0 0 1" result="n1"/><feComposite in="n1" in2="SourceGraphic" operator="arithmetic" k1="0" k2="1" k3="0.36" k4="-0.18" result="n"/><feColorMatrix in="n" type="matrix" values="0 0 0 0 0 0 0 0 0 0.6 0 0 0 0 1 8 0 0 0 -4.0" result="l0"/><feColorMatrix in="n" type="matrix" values="0 0 0 0 0 0 0 0 0 0.92 0 0 0 0 1 12 0 0 0 -6.9" result="l1"/><feMerge><feMergeNode in="l0"/><feMergeNode in="l1"/></feMerge></filter><filter id="fstL" filterUnits="userSpaceOnUse" x="500" y="-300" width="900" height="1000" color-interpolation-filters="sRGB"><feTurbulence type="fractalNoise" baseFrequency="0.26 0.5" numOctaves="1" seed="13" result="n0"/><feColorMatrix in="n0" type="matrix" values="1 0 0 0 0 0 1 0 0 0 0 0 1 0 0 0 0 0 0 1" result="n1"/><feComposite in="n1" in2="SourceGraphic" operator="arithmetic" k1="0" k2="1" k3="0.36" k4="-0.18" result="n"/><feColorMatrix in="n" type="matrix" values="0 0 0 0 0 0 0 0 0 0.62 0 0 0 0 1 10 0 0 0 -5.0" result="l0"/><feColorMatrix in="n" type="matrix" values="0 0 0 0 0 0 0 0 0 0.9 0 0 0 0 1 13 0 0 0 -7.1" result="l1"/><feMerge><feMergeNode in="l0"/><feMergeNode in="l1"/></feMerge></filter><filter id="fst3" filterUnits="userSpaceOnUse" x="560" y="-60" width="620" height="600" color-interpolation-filters="sRGB"><feTurbulence type="fractalNoise" baseFrequency="0.085 0.5" numOctaves="1" seed="19" result="n"/><feColorMatrix in="n" type="matrix" values="0 0 0 0 0 0 0 0 0 0.68 0 0 0 0 1 10 0 0 0 -4.9" result="l0"/><feColorMatrix in="n" type="matrix" values="0 0 0 0 0 0 0 0 0 0.95 0 0 0 0 1 13 0 0 0 -7.0" result="l1"/><feColorMatrix in="n" type="matrix" values="0 0 0 0 0.4 0 0 0 0 1 0 0 0 0 0.6 16 0 0 0 -9.6" result="l2"/><feMerge><feMergeNode in="l0"/><feMergeNode in="l1"/><feMergeNode in="l2"/></feMerge></filter><filter id="fst4" filterUnits="userSpaceOnUse" x="560" y="-60" width="620" height="600" color-interpolation-filters="sRGB"><feTurbulence type="fractalNoise" baseFrequency="0.07 0.5" numOctaves="1" seed="23" result="n"/><feColorMatrix in="n" type="matrix" values="0 0 0 0 0 0 0 0 0 0.8 0 0 0 0 1 10 0 0 0 -4.5" result="l0"/><feColorMatrix in="n" type="matrix" values="0 0 0 0 0.3 0 0 0 0 1 0 0 0 0 0.7 13 0 0 0 -6.6" result="l1"/><feColorMatrix in="n" type="matrix" values="0 0 0 0 0.8 0 0 0 0 1 0 0 0 0 0.2 16 0 0 0 -8.8" result="l2"/><feMerge><feMergeNode in="l0"/><feMergeNode in="l1"/><feMergeNode in="l2"/></feMerge></filter><filter id="finl" filterUnits="userSpaceOnUse" x="560" y="-60" width="620" height="600" color-interpolation-filters="sRGB"><feTurbulence type="fractalNoise" baseFrequency="0.22" numOctaves="2" seed="41" result="n"/><feColorMatrix in="n" type="matrix" values="0 0 0 0 0 0 0 0 0 0.75 0 0 0 0 1 9 0 0 0 -4.1" result="l0"/><feColorMatrix in="n" type="matrix" values="0 0 0 0 0.3 0 0 0 0 1 0 0 0 0 0.7 12 0 0 0 -6.2" result="l1"/><feColorMatrix in="n" type="matrix" values="0 0 0 0 0.95 0 0 0 0 1 0 0 0 0 0.1 16 0 0 0 -9.1" result="l2"/><feMerge><feMergeNode in="l0"/><feMergeNode in="l1"/><feMergeNode in="l2"/></feMerge></filter><filter id="fst2" filterUnits="userSpaceOnUse" x="560" y="-60" width="620" height="600" color-interpolation-filters="sRGB"><feTurbulence type="fractalNoise" baseFrequency="0.26 0.26" numOctaves="2" seed="11" result="n"/><feColorMatrix in="n" type="matrix" values="0 0 0 0 0 0 0 0 0 0.7 0 0 0 0 1 12 0 0 0 -6.3" result="l0"/><feColorMatrix in="n" type="matrix" values="0 0 0 0 0.1 0 0 0 0 0.95 0 0 0 0 1 16 0 0 0 -9.0" result="l1"/><feMerge><feMergeNode in="l0"/><feMergeNode in="l1"/></feMerge></filter><filter id="fst2v" filterUnits="userSpaceOnUse" x="930" y="80" width="160" height="260" color-interpolation-filters="sRGB"><feTurbulence type="fractalNoise" baseFrequency="0.36 0.3" numOctaves="2" seed="11" result="n0"/><feColorMatrix in="n0" type="matrix" values="1 0 0 0 0 0 1 0 0 0 0 0 1 0 0 0 0 0 0 1" result="n1"/><feComposite in="n1" in2="SourceGraphic" operator="arithmetic" k1="0" k2="1" k3="0.3" k4="-0.15" result="n"/><feColorMatrix in="n" type="matrix" values="0 0 0 0 0 0 0 0 0 0.7 0 0 0 0 1 12 0 0 0 -6.3" result="l0"/><feColorMatrix in="n" type="matrix" values="0 0 0 0 0.1 0 0 0 0 0.95 0 0 0 0 1 16 0 0 0 -9.0" result="l1"/><feMerge><feMergeNode in="l0"/><feMergeNode in="l1"/></feMerge></filter><filter id="fdk" filterUnits="userSpaceOnUse" x="800" y="240" width="300" height="220" color-interpolation-filters="sRGB"><feTurbulence type="fractalNoise" baseFrequency="0.3" numOctaves="2" seed="4" result="n"/><feColorMatrix in="n" type="matrix" values="0 0 0 0 0.3 0 0 0 0 1 0 0 0 0 0.7 8 0 0 0 -4.0" result="l0"/><feColorMatrix in="n" type="matrix" values="0 0 0 0 0.9 0 0 0 0 1 0 0 0 0 0.15 10 0 0 0 -5.3" result="l1"/><feColorMatrix in="n" type="matrix" values="0 0 0 0 1 0 0 0 0 0.4 0 0 0 0 0 18 0 0 0 -12.8" result="l2"/><feMerge><feMergeNode in="l0"/><feMergeNode in="l1"/><feMergeNode in="l2"/></feMerge></filter><filter id="fgl" filterUnits="userSpaceOnUse" x="880" y="200" width="200" height="140" color-interpolation-filters="sRGB"><feTurbulence type="fractalNoise" baseFrequency="0.3" numOctaves="2" seed="2" result="n"/><feColorMatrix in="n" type="matrix" values="0 0 0 0 0.45 0 0 0 0 1 0 0 0 0 0.5 10 0 0 0 -4.4" result="l0"/><feColorMatrix in="n" type="matrix" values="0 0 0 0 0.95 0 0 0 0 1 0 0 0 0 0.05 14 0 0 0 -7.2" result="l1"/><feColorMatrix in="n" type="matrix" values="0 0 0 0 1 0 0 0 0 0.5 0 0 0 0 0 20 0 0 0 -13.5" result="l2"/><feMerge><feMergeNode in="l0"/><feMergeNode in="l1"/><feMergeNode in="l2"/></feMerge></filter><filter id="fspk" filterUnits="userSpaceOnUse" x="940" y="90" width="140" height="170" color-interpolation-filters="sRGB"><feTurbulence type="fractalNoise" baseFrequency="0.35" numOctaves="2" seed="5" result="n"/><feColorMatrix in="n" type="matrix" values="0 0 0 0 0 0 0 0 0 0 0 0 0 0 0 8 0 0 0 -2.9" result="m"/><feComposite in="SourceGraphic" in2="m" operator="in"/></filter><linearGradient id="glagv" gradientUnits="userSpaceOnUse" x1="0" y1="95" x2="0" y2="240"><stop offset="0" stop-color="#000"/><stop offset="0.4" stop-color="#606060"/><stop offset="1" stop-color="#fff"/></linearGradient><filter id="fbase" filterUnits="userSpaceOnUse" x="650" y="27" width="430" height="413" color-interpolation-filters="sRGB"><feTurbulence type="fractalNoise" baseFrequency="0.3 0.22" numOctaves="2" seed="3" result="n"/><feColorMatrix in="n" type="matrix" values="0 0 0 0 0.04 0 0 0 0 0.25 0 0 0 0 1 1.6 0 0 0 -0.55" result="l0"/><feMerge><feMergeNode in="l0"/></feMerge></filter><filter id="fbl1" x="-30%" y="-30%" width="160%" height="160%"><feGaussianBlur stdDeviation="1.2"/></filter><filter id="fbl" x="-20%" y="-20%" width="140%" height="140%"><feGaussianBlur stdDeviation="7"/></filter><filter id="fbl2" x="-20%" y="-20%" width="140%" height="140%"><feGaussianBlur stdDeviation="4"/></filter><linearGradient id="gfade" gradientUnits="userSpaceOnUse" x1="0" y1="40" x2="0" y2="440"><stop offset="0" stop-color="#fff"/><stop offset="0.62" stop-color="#fff"/><stop offset="0.78" stop-color="#555"/><stop offset="1" stop-color="#111"/></linearGradient><radialGradient id="glbase" cx="983.5" cy="295.3" r="95" gradientUnits="userSpaceOnUse"><stop offset="0" stop-color="#60f890"/><stop offset="0.25" stop-color="#30f0c0"/><stop offset="0.45" stop-color="#18d8f0" stop-opacity="0.9"/><stop offset="0.7" stop-color="#1090ff" stop-opacity="0.5"/><stop offset="1" stop-color="#0636f8" stop-opacity="0"/></radialGradient><radialGradient id="gglow" cx="975" cy="285" r="75" gradientUnits="userSpaceOnUse"><stop offset="0" stop-color="#fff"/><stop offset="0.45" stop-color="#ccc"/><stop offset="1" stop-color="#000"/></radialGradient><radialGradient id="gctr" cx="983.5" cy="295.3" r="12" gradientUnits="userSpaceOnUse"><stop offset="0.4" stop-color="#f40" stop-opacity="0.9"/><stop offset="0.7" stop-color="#f90" stop-opacity="0.5"/><stop offset="1" stop-color="#fc0" stop-opacity="0"/></radialGradient><radialGradient id="glag" cx="983.5" cy="295.3" r="200" gradientUnits="userSpaceOnUse"><stop offset="0" stop-color="#fff"/><stop offset="0.45" stop-color="#fff"/><stop offset="1" stop-color="#999"/></radialGradient><mask id="msea" maskUnits="userSpaceOnUse" x="640" y="20" width="450" height="430"><rect x="640" y="20" width="450" height="430" fill="#fff"/><path d="M905.0 165.0L990.0 165.0L990.0 215.0L940.0 255.0L895.0 310.0L850.0 338.0L805.0 338.0L835.0 290.0L875.0 225.0Z" fill="#000" filter="url(#fbl)"/><path d="M997.0 27.0L1081.0 27.0L1081.0 92.0L1064.4 100.5L1056.0 103.3L1044.6 126.0L1036.0 143.0L1016.0 171.0L990.0 208.0L985.0 212.0L988.0 190.0L986.5 143.0L986.0 90.0L990.0 68.0L996.7 50.0ZM984.0 295.0L1081.0 253.5L1081.0 441.0L833.0 441.0L836.0 385.0L845.0 362.0L860.0 343.0L878.0 328.0L892.0 316.0L910.7 335.0L929.0 328.3L950.2 316.4L964.0 306.5ZM935.0 255.0L962.0 236.0L990.0 208.0L1016.0 171.0L1036.0 143.0L1044.6 126.0L1056.0 103.3L1064.4 100.5L1081.0 92.0L1081.0 253.5L984.0 295.0L964.0 306.5L950.2 316.4L929.0 328.3L910.7 335.0L892.0 316.0L912.0 285.0Z" fill="#000"/></mask><mask id="mnear" maskUnits="userSpaceOnUse" x="640" y="20" width="450" height="430"><path d="M905.0 165.0L990.0 165.0L990.0 215.0L940.0 255.0L895.0 310.0L850.0 338.0L805.0 338.0L835.0 290.0L875.0 225.0Z" fill="#fff" filter="url(#fbl)"/><path d="M640.0 345.0L790.0 340.0L830.0 345.0L850.0 365.0L840.0 450.0L640.0 450.0Z" fill="#000" opacity="0.85" filter="url(#fbl)"/><path d="M997.0 27.0L1081.0 27.0L1081.0 92.0L1064.4 100.5L1056.0 103.3L1044.6 126.0L1036.0 143.0L1016.0 171.0L990.0 208.0L985.0 212.0L988.0 190.0L986.5 143.0L986.0 90.0L990.0 68.0L996.7 50.0ZM984.0 295.0L1081.0 253.5L1081.0 441.0L833.0 441.0L836.0 385.0L845.0 362.0L860.0 343.0L878.0 328.0L892.0 316.0L910.7 335.0L929.0 328.3L950.2 316.4L964.0 306.5ZM935.0 255.0L962.0 236.0L990.0 208.0L1016.0 171.0L1036.0 143.0L1044.6 126.0L1056.0 103.3L1064.4 100.5L1081.0 92.0L1081.0 253.5L984.0 295.0L964.0 306.5L950.2 316.4L929.0 328.3L910.7 335.0L892.0 316.0L912.0 285.0ZM950.0 180.0L992.0 203.0L985.0 215.0L960.0 240.0L935.0 268.0L918.0 295.0L905.0 325.0L880.0 336.0L845.0 342.0L826.0 338.0L840.0 312.0L870.0 280.0L900.0 245.0L925.0 205.0Z" fill="#000"/></mask><mask id="msurf" maskUnits="userSpaceOnUse" x="640" y="20" width="450" height="430"><path d="M950.0 180.0L992.0 203.0L985.0 215.0L960.0 240.0L935.0 268.0L918.0 295.0L905.0 325.0L880.0 336.0L845.0 342.0L826.0 338.0L840.0 312.0L870.0 280.0L900.0 245.0L925.0 205.0Z" fill="#fff" filter="url(#fbl2)"/><path d="M997.0 27.0L1081.0 27.0L1081.0 92.0L1064.4 100.5L1056.0 103.3L1044.6 126.0L1036.0 143.0L1016.0 171.0L990.0 208.0L985.0 212.0L988.0 190.0L986.5 143.0L986.0 90.0L990.0 68.0L996.7 50.0ZM984.0 295.0L1081.0 253.5L1081.0 441.0L833.0 441.0L836.0 385.0L845.0 362.0L860.0 343.0L878.0 328.0L892.0 316.0L910.7 335.0L929.0 328.3L950.2 316.4L964.0 306.5Z" fill="#000"/></mask><mask id="mlag" maskUnits="userSpaceOnUse" x="640" y="20" width="450" height="430"><path d="M935.0 255.0L962.0 236.0L990.0 208.0L1016.0 171.0L1036.0 143.0L1044.6 126.0L1056.0 103.3L1064.4 100.5L1081.0 92.0L1081.0 253.5L984.0 295.0L964.0 306.5L950.2 316.4L929.0 328.3L910.7 335.0L892.0 316.0L912.0 285.0Z" fill="url(#glag)" filter="url(#fbl2)"/><path d="M984.0 295.0L1081.0 253.5L1081.0 441.0L833.0 441.0L836.0 385.0L845.0 362.0L860.0 343.0L878.0 328.0L892.0 316.0L910.7 335.0L929.0 328.3L950.2 316.4L964.0 306.5ZM997.0 27.0L1081.0 27.0L1081.0 92.0L1064.4 100.5L1056.0 103.3L1044.6 126.0L1036.0 143.0L1016.0 171.0L990.0 208.0L985.0 212.0L988.0 190.0L986.5 143.0L986.0 90.0L990.0 68.0L996.7 50.0Z" fill="#000"/></mask><mask id="minl" maskUnits="userSpaceOnUse" x="640" y="20" width="450" height="430"><path d="M878 305L930 262L965 290L945 325L900 336Z" fill="#fff" filter="url(#fbl2)"/><path d="M984.0 295.0L1081.0 253.5L1081.0 441.0L833.0 441.0L836.0 385.0L845.0 362.0L860.0 343.0L878.0 328.0L892.0 316.0L910.7 335.0L929.0 328.3L950.2 316.4L964.0 306.5Z" fill="#000"/></mask><mask id="mlagb" maskUnits="userSpaceOnUse" x="640" y="20" width="450" height="430"><path d="M935.0 255.0L962.0 236.0L990.0 208.0L1016.0 171.0L1036.0 143.0L1044.6 126.0L1056.0 103.3L1064.4 100.5L1081.0 92.0L1081.0 253.5L984.0 295.0L964.0 306.5L950.2 316.4L929.0 328.3L910.7 335.0L892.0 316.0L912.0 285.0Z" fill="#fff" filter="url(#fbl2)"/><path d="M984.0 295.0L1081.0 253.5L1081.0 441.0L833.0 441.0L836.0 385.0L845.0 362.0L860.0 343.0L878.0 328.0L892.0 316.0L910.7 335.0L929.0 328.3L950.2 316.4L964.0 306.5ZM997.0 27.0L1081.0 27.0L1081.0 92.0L1064.4 100.5L1056.0 103.3L1044.6 126.0L1036.0 143.0L1016.0 171.0L990.0 208.0L985.0 212.0L988.0 190.0L986.5 143.0L986.0 90.0L990.0 68.0L996.7 50.0Z" fill="#000"/></mask><mask id="mlagv" maskUnits="userSpaceOnUse" x="640" y="20" width="450" height="430"><rect x="640" y="20" width="450" height="430" fill="url(#glagv)"/></mask><mask id="mglow" maskUnits="userSpaceOnUse" x="880" y="200" width="200" height="140"><circle cx="975" cy="285" r="75" fill="url(#gglow)"/></mask><radialGradient id="gleft" gradientUnits="userSpaceOnUse" cx="668" cy="300" r="70" gradientTransform="translate(668 300) scale(0.8 1.6) translate(-668 -300)"><stop offset="0" stop-color="#fff"/><stop offset="0.5" stop-color="#ccc"/><stop offset="1" stop-color="#000"/></radialGradient><radialGradient id="gright" gradientUnits="userSpaceOnUse" cx="668" cy="300" r="70" gradientTransform="translate(668 300) scale(0.8 1.6) translate(-668 -300)"><stop offset="0" stop-color="#000"/><stop offset="0.5" stop-color="#333"/><stop offset="1" stop-color="#fff"/></radialGradient><mask id="mL" maskUnits="userSpaceOnUse" x="640" y="20" width="450" height="430"><rect x="640" y="20" width="450" height="430" fill="url(#gleft)"/></mask><mask id="mR" maskUnits="userSpaceOnUse" x="640" y="20" width="450" height="430"><rect x="640" y="20" width="450" height="430" fill="url(#gright)"/></mask><pattern id="pcr1" width="50" height="5.6" patternUnits="userSpaceOnUse" patternTransform="rotate(-31)"><rect width="50" height="2.5" fill="#28e8f0"/><rect y="0.4" width="50" height="1.5" fill="#c0ff40"/></pattern><pattern id="pcr2" width="50" height="5.6" patternUnits="userSpaceOnUse" patternTransform="rotate(-27)"><rect width="50" height="2.5" fill="#10b8ff"/><rect y="0.5" width="50" height="1.2" fill="#30f0f0"/></pattern><filter id="fdash" filterUnits="userSpaceOnUse" x="640" y="20" width="450" height="430" color-interpolation-filters="sRGB"><feTurbulence type="fractalNoise" baseFrequency="0.09 0.16" numOctaves="2" seed="31" result="n"/><feColorMatrix in="n" type="matrix" values="0 0 0 0 0 0 0 0 0 0 0 0 0 0 0 12 0 0 0 -5.0" result="m"/><feComposite in="SourceGraphic" in2="m" operator="in"/></filter><filter id="fdash2" filterUnits="userSpaceOnUse" x="640" y="20" width="450" height="430" color-interpolation-filters="sRGB"><feTurbulence type="fractalNoise" baseFrequency="0.09 0.16" numOctaves="2" seed="37" result="n"/><feColorMatrix in="n" type="matrix" values="0 0 0 0 0 0 0 0 0 0 0 0 0 0 0 12 0 0 0 -5.3" result="m"/><feComposite in="SourceGraphic" in2="m" operator="in"/></filter><linearGradient id="gsv1" gradientUnits="userSpaceOnUse" x1="0" y1="290" x2="0" y2="390" gradientTransform="rotate(24 983.5 295.3)"><stop offset="0" stop-color="#808080"/><stop offset="1" stop-color="#000"/></linearGradient><linearGradient id="gsv2" gradientUnits="userSpaceOnUse" x1="0" y1="290" x2="0" y2="390" gradientTransform="rotate(-65 983.5 295.3)"><stop offset="0" stop-color="#808080"/><stop offset="1" stop-color="#000"/></linearGradient></defs><g clip-path="url(#cc)"><g clip-path="url(#ell)"><rect x="650" y="27" width="430" height="413" fill="#0a1af2"/><rect x="650" y="27" width="430" height="413" filter="url(#fbase)"/><g mask="url(#msea)"><g mask="url(#mR)"><rect x="600" y="-30" width="560" height="520" fill="url(#gsv1)" filter="url(#fst)" transform="rotate(-24 983.5 295.3)"/></g></g><g mask="url(#msea)"><g mask="url(#mL)"><rect x="500" y="-300" width="900" height="1000" fill="url(#gsv2)" filter="url(#fstL)" transform="rotate(65 983.5 295.3)"/></g></g><g mask="url(#mnear)"><rect x="640" y="20" width="450" height="430" fill="url(#pcr2)" filter="url(#fdash2)"/></g><g mask="url(#msurf)"><rect x="640" y="20" width="450" height="430" fill="url(#pcr1)" filter="url(#fdash)"/></g><g mask="url(#mlagb)"><circle cx="983.5" cy="295.3" r="150" fill="url(#glbase)"/></g><g mask="url(#mlag)"><rect x="930" y="80" width="160" height="260" fill="url(#glagv)" filter="url(#fst2v)"/></g><g mask="url(#minl)"><rect x="600" y="-30" width="560" height="520" filter="url(#finl)"/></g><g filter="url(#fspk)"><path d="M955.0 244.0L975.0 225.0L990.0 209.0L1016.0 171.0L1037.5 143.0" fill="none" stroke="#1cc8ff" stroke-width="11" stroke-linecap="round"/><path d="M955.0 244.0L975.0 225.0L990.0 209.0L1016.0 171.0L1037.5 143.0" fill="none" stroke="#60f0b0" stroke-width="7" stroke-linecap="round"/><path d="M955.0 244.0L975.0 225.0L990.0 209.0L1016.0 171.0L1037.5 143.0" fill="none" stroke="#d8ff30" stroke-width="3.2" stroke-linecap="round"/><path d="M1043.7 126.0L1050.0 112.0L1056.0 104.0L1062.0 100.0" fill="none" stroke="#30d8ff" stroke-width="5" stroke-linecap="round"/><path d="M1043.7 126.0L1050.0 112.0L1056.0 104.0L1062.0 100.0" fill="none" stroke="#70f0a0" stroke-width="2" stroke-linecap="round"/></g><circle cx="1041.6" cy="145.2" r="2.2" fill="#f80"/><g clip-path="url(#cland)"><path d="M984.0 295.0L1081.0 253.5L1081.0 441.0L833.0 441.0L836.0 385.0L845.0 362.0L860.0 343.0L878.0 328.0L892.0 316.0L910.7 335.0L929.0 328.3L950.2 316.4L964.0 306.5Z" fill="#1eeee8"/><rect x="800" y="240" width="300" height="220" filter="url(#fdk)"/><g transform="matrix(1.0 -0.03 -0.28 1.0 900.0 250.0)"><rect x="-34.9" y="100.7" width="12.7" height="8.1" fill="#0a22f6"/><rect x="-34.9" y="112.1" width="12.7" height="8.9" fill="#0a22f6"/><rect x="-34.9" y="136.0" width="12.7" height="6.0" fill="#0a20f4"/><rect x="-34.9" y="145.0" width="12.7" height="7.5" fill="#0c28f8"/><rect x="-19.2" y="78.4" width="12.6" height="8.9" fill="#0818ee"/><rect x="-19.2" y="90.2" width="12.6" height="7.6" fill="#1030ff"/><rect x="-19.2" y="100.7" width="12.6" height="8.1" fill="#0a1af2"/><rect x="-19.2" y="112.1" width="12.6" height="8.9" fill="#0a22f6"/><rect x="-19.2" y="125.0" width="12.6" height="7.0" fill="#0c28f8"/><rect x="-19.2" y="136.0" width="12.6" height="6.0" fill="#0c28f8"/><rect x="-19.2" y="145.0" width="12.6" height="7.5" fill="#0a22f6"/><rect x="-19.2" y="155.5" width="12.6" height="5.5" fill="#0c28f8"/><rect x="-19.2" y="164.3" width="12.6" height="7.6" fill="#0c28f8"/><rect x="-19.2" y="174.9" width="12.6" height="4.7" fill="#1030ff"/><rect x="-19.2" y="183.5" width="12.6" height="6.1" fill="#0a22f6"/><rect x="-2.7" y="68.7" width="11.9" height="6.0" fill="#0818ee"/><rect x="-2.7" y="78.4" width="11.9" height="8.9" fill="#0a20f4"/><rect x="-2.7" y="90.2" width="11.9" height="7.6" fill="#0a1af2"/><rect x="-2.7" y="100.7" width="11.9" height="8.1" fill="#1030ff"/><rect x="-2.7" y="112.1" width="11.9" height="8.9" fill="#0a22f6"/><rect x="-2.7" y="125.0" width="11.9" height="7.0" fill="#0a1af2"/><rect x="-2.7" y="136.0" width="11.9" height="6.0" fill="#0818ee"/><rect x="-2.7" y="164.3" width="11.9" height="7.6" fill="#0a22f6"/><rect x="-2.7" y="174.9" width="11.9" height="4.7" fill="#0c28f8"/><rect x="-2.7" y="183.5" width="11.9" height="6.1" fill="#0818ee"/><rect x="12.9" y="68.7" width="12.9" height="6.0" fill="#1030ff"/><rect x="12.9" y="78.4" width="12.9" height="8.9" fill="#0c28f8"/><rect x="12.9" y="90.2" width="12.9" height="7.6" fill="#0c28f8"/><rect x="12.9" y="112.1" width="12.9" height="8.9" fill="#0818ee"/><rect x="12.9" y="125.0" width="12.9" height="7.0" fill="#1030ff"/><rect x="12.9" y="136.0" width="12.9" height="6.0" fill="#0818ee"/><rect x="12.9" y="145.0" width="12.9" height="3.7" fill="#0a22f6"/><rect x="12.9" y="155.5" width="12.9" height="5.5" fill="#0a22f6"/><rect x="12.9" y="164.3" width="12.9" height="7.6" fill="#1030ff"/><rect x="12.9" y="174.9" width="12.9" height="4.7" fill="#0a22f6"/><rect x="28.7" y="78.4" width="13.4" height="8.9" fill="#0c28f8"/><rect x="28.7" y="90.2" width="13.4" height="7.6" fill="#0a20f4"/><rect x="28.7" y="100.7" width="13.4" height="8.1" fill="#1030ff"/><rect x="28.7" y="112.1" width="13.4" height="8.9" fill="#0a1af2"/><rect x="28.7" y="125.0" width="13.4" height="7.0" fill="#0a22f6"/><rect x="28.7" y="136.0" width="13.4" height="3.0" fill="#0a20f4"/><rect x="28.7" y="145.0" width="13.4" height="3.7" fill="#0a20f4"/><rect x="28.7" y="155.5" width="13.4" height="5.5" fill="#0a20f4"/><rect x="28.7" y="164.3" width="13.4" height="7.6" fill="#0a1af2"/><rect x="28.7" y="174.9" width="13.4" height="4.7" fill="#0818ee"/><rect x="28.7" y="183.5" width="13.4" height="6.1" fill="#0a20f4"/><rect x="45.7" y="78.4" width="10.5" height="8.9" fill="#0a20f4"/><rect x="45.7" y="90.2" width="10.5" height="7.6" fill="#1030ff"/><rect x="45.7" y="100.7" width="10.5" height="8.1" fill="#0a20f4"/><rect x="45.7" y="125.0" width="10.5" height="7.0" fill="#0a20f4"/><rect x="45.7" y="136.0" width="10.5" height="6.0" fill="#0a20f4"/><rect x="45.7" y="145.0" width="10.5" height="7.5" fill="#0a20f4"/><rect x="45.7" y="155.5" width="10.5" height="5.5" fill="#0a20f4"/><rect x="45.7" y="174.9" width="10.5" height="4.7" fill="#0c28f8"/><rect x="45.7" y="183.5" width="10.5" height="6.1" fill="#0a22f6"/><rect x="59.1" y="59.1" width="14.1" height="6.6" fill="#0c28f8"/><rect x="59.1" y="68.7" width="14.1" height="6.0" fill="#0c28f8"/><rect x="59.1" y="78.4" width="14.1" height="8.9" fill="#0a1af2"/><rect x="59.1" y="90.2" width="14.1" height="7.6" fill="#0a1af2"/><rect x="59.1" y="100.7" width="14.1" height="8.1" fill="#0a1af2"/><rect x="59.1" y="112.1" width="14.1" height="8.9" fill="#0a22f6"/><rect x="59.1" y="125.0" width="14.1" height="7.0" fill="#0a20f4"/><rect x="59.1" y="136.0" width="14.1" height="6.0" fill="#0818ee"/><rect x="59.1" y="155.5" width="14.1" height="5.5" fill="#0c28f8"/><rect x="59.1" y="164.3" width="14.1" height="7.6" fill="#0818ee"/><rect x="59.1" y="174.9" width="14.1" height="4.7" fill="#0818ee"/><rect x="59.1" y="183.5" width="14.1" height="6.1" fill="#0a22f6"/><rect x="76.6" y="50.4" width="13.2" height="4.9" fill="#1030ff"/><rect x="76.6" y="59.1" width="13.2" height="6.6" fill="#0a20f4"/><rect x="76.6" y="68.7" width="13.2" height="6.0" fill="#0818ee"/><rect x="76.6" y="78.4" width="13.2" height="8.9" fill="#0818ee"/><rect x="76.6" y="90.2" width="13.2" height="7.6" fill="#0818ee"/><rect x="76.6" y="100.7" width="13.2" height="8.1" fill="#0a20f4"/><rect x="76.6" y="112.1" width="13.2" height="8.9" fill="#1030ff"/><rect x="76.6" y="125.0" width="13.2" height="7.0" fill="#0a22f6"/><rect x="76.6" y="136.0" width="13.2" height="6.0" fill="#0818ee"/><rect x="76.6" y="155.5" width="13.2" height="5.5" fill="#0a1af2"/><rect x="76.6" y="164.3" width="13.2" height="7.6" fill="#0a1af2"/><rect x="76.6" y="174.9" width="13.2" height="4.7" fill="#0a22f6"/><rect x="76.6" y="183.5" width="13.2" height="6.1" fill="#0c28f8"/><rect x="76.6" y="193.5" width="13.2" height="9.0" fill="#0a22f6"/><rect x="93.7" y="37.6" width="13.1" height="8.8" fill="#0a20f4"/><rect x="93.7" y="50.4" width="13.1" height="4.9" fill="#0a1af2"/><rect x="93.7" y="59.1" width="13.1" height="3.3" fill="#0a22f6"/><rect x="93.7" y="68.7" width="13.1" height="6.0" fill="#0a1af2"/><rect x="93.7" y="78.4" width="13.1" height="8.9" fill="#0c28f8"/><rect x="93.7" y="90.2" width="13.1" height="3.8" fill="#0a20f4"/><rect x="93.7" y="100.7" width="13.1" height="8.1" fill="#1030ff"/><rect x="93.7" y="112.1" width="13.1" height="8.9" fill="#1030ff"/><rect x="93.7" y="125.0" width="13.1" height="7.0" fill="#1030ff"/><rect x="93.7" y="136.0" width="13.1" height="6.0" fill="#0818ee"/><rect x="93.7" y="145.0" width="13.1" height="7.5" fill="#0a1af2"/><rect x="93.7" y="164.3" width="13.1" height="7.6" fill="#0a1af2"/><rect x="93.7" y="174.9" width="13.1" height="4.7" fill="#0c28f8"/><rect x="93.7" y="183.5" width="13.1" height="6.1" fill="#0818ee"/><rect x="93.7" y="193.5" width="13.1" height="9.0" fill="#0a22f6"/><rect x="110.7" y="50.4" width="11.1" height="4.9" fill="#0a1af2"/><rect x="110.7" y="59.1" width="11.1" height="6.6" fill="#0a20f4"/><rect x="110.7" y="68.7" width="11.1" height="6.0" fill="#0a1af2"/><rect x="110.7" y="78.4" width="11.1" height="8.9" fill="#0a22f6"/><rect x="110.7" y="90.2" width="11.1" height="7.6" fill="#0818ee"/><rect x="110.7" y="100.7" width="11.1" height="8.1" fill="#0a1af2"/><rect x="110.7" y="112.1" width="11.1" height="8.9" fill="#0a20f4"/><rect x="110.7" y="125.0" width="11.1" height="7.0" fill="#0a1af2"/><rect x="110.7" y="136.0" width="11.1" height="6.0" fill="#0818ee"/><rect x="110.7" y="145.0" width="11.1" height="7.5" fill="#0c28f8"/><rect x="110.7" y="155.5" width="11.1" height="5.5" fill="#0a20f4"/><rect x="110.7" y="164.3" width="11.1" height="7.6" fill="#0a20f4"/><rect x="110.7" y="174.9" width="11.1" height="4.7" fill="#0a22f6"/><rect x="110.7" y="183.5" width="11.1" height="6.1" fill="#0a22f6"/><rect x="110.7" y="193.5" width="11.1" height="9.0" fill="#0818ee"/><rect x="125.6" y="37.6" width="11.4" height="8.8" fill="#1030ff"/><rect x="125.6" y="68.7" width="11.4" height="6.0" fill="#0818ee"/><rect x="125.6" y="78.4" width="11.4" height="8.9" fill="#0c28f8"/><rect x="125.6" y="90.2" width="11.4" height="7.6" fill="#0a20f4"/><rect x="125.6" y="100.7" width="11.4" height="8.1" fill="#0c28f8"/><rect x="125.6" y="112.1" width="11.4" height="8.9" fill="#0818ee"/><rect x="125.6" y="125.0" width="11.4" height="7.0" fill="#0818ee"/><rect x="125.6" y="136.0" width="11.4" height="6.0" fill="#0a20f4"/><rect x="125.6" y="145.0" width="11.4" height="7.5" fill="#0a22f6"/><rect x="125.6" y="155.5" width="11.4" height="5.5" fill="#0818ee"/><rect x="125.6" y="164.3" width="11.4" height="3.8" fill="#0a22f6"/><rect x="125.6" y="174.9" width="11.4" height="4.7" fill="#0a20f4"/><rect x="125.6" y="183.5" width="11.4" height="6.1" fill="#0818ee"/><rect x="125.6" y="193.5" width="11.4" height="9.0" fill="#1030ff"/><rect x="140.9" y="16.5" width="14.2" height="8.7" fill="#0a20f4"/><rect x="140.9" y="28.7" width="14.2" height="5.9" fill="#0a20f4"/><rect x="140.9" y="37.6" width="14.2" height="4.4" fill="#0a1af2"/><rect x="140.9" y="50.4" width="14.2" height="4.9" fill="#0818ee"/><rect x="140.9" y="59.1" width="14.2" height="6.6" fill="#0c28f8"/><rect x="140.9" y="68.7" width="14.2" height="3.0" fill="#0a1af2"/><rect x="140.9" y="78.4" width="14.2" height="8.9" fill="#0a20f4"/><rect x="140.9" y="100.7" width="14.2" height="8.1" fill="#0a1af2"/><rect x="140.9" y="112.1" width="14.2" height="8.9" fill="#0a1af2"/><rect x="140.9" y="125.0" width="14.2" height="7.0" fill="#0c28f8"/><rect x="140.9" y="136.0" width="14.2" height="6.0" fill="#0818ee"/><rect x="140.9" y="145.0" width="14.2" height="7.5" fill="#0c28f8"/><rect x="140.9" y="155.5" width="14.2" height="5.5" fill="#0a1af2"/><rect x="140.9" y="164.3" width="14.2" height="7.6" fill="#0a22f6"/><rect x="140.9" y="174.9" width="14.2" height="2.4" fill="#0a20f4"/><rect x="140.9" y="183.5" width="14.2" height="6.1" fill="#1030ff"/><rect x="140.9" y="193.5" width="14.2" height="9.0" fill="#0a20f4"/><rect x="158.1" y="16.5" width="9.4" height="8.7" fill="#0a22f6"/><rect x="158.1" y="28.7" width="9.4" height="5.9" fill="#1030ff"/><rect x="158.1" y="37.6" width="9.4" height="8.8" fill="#0c28f8"/><rect x="158.1" y="50.4" width="9.4" height="4.9" fill="#0a20f4"/><rect x="158.1" y="59.1" width="9.4" height="6.6" fill="#0a1af2"/><rect x="158.1" y="68.7" width="9.4" height="6.0" fill="#1030ff"/><rect x="158.1" y="78.4" width="9.4" height="8.9" fill="#0c28f8"/><rect x="158.1" y="90.2" width="9.4" height="7.6" fill="#0c28f8"/><rect x="158.1" y="100.7" width="9.4" height="8.1" fill="#0818ee"/><rect x="158.1" y="112.1" width="9.4" height="8.9" fill="#1030ff"/><rect x="158.1" y="125.0" width="9.4" height="7.0" fill="#0c28f8"/><rect x="158.1" y="136.0" width="9.4" height="6.0" fill="#0a1af2"/><rect x="158.1" y="145.0" width="9.4" height="7.5" fill="#0a20f4"/><rect x="158.1" y="155.5" width="9.4" height="5.5" fill="#1030ff"/><rect x="158.1" y="164.3" width="9.4" height="7.6" fill="#0a1af2"/><rect x="158.1" y="174.9" width="9.4" height="4.7" fill="#1030ff"/><rect x="158.1" y="183.5" width="9.4" height="6.1" fill="#0818ee"/><rect x="158.1" y="193.5" width="9.4" height="9.0" fill="#0a22f6"/><rect x="170.6" y="16.5" width="14.8" height="8.7" fill="#0818ee"/><rect x="170.6" y="28.7" width="14.8" height="5.9" fill="#0c28f8"/><rect x="170.6" y="37.6" width="14.8" height="8.8" fill="#0a1af2"/><rect x="170.6" y="50.4" width="14.8" height="2.5" fill="#0c28f8"/><rect x="170.6" y="59.1" width="14.8" height="6.6" fill="#1030ff"/><rect x="170.6" y="68.7" width="14.8" height="6.0" fill="#0a20f4"/><rect x="170.6" y="78.4" width="14.8" height="8.9" fill="#0818ee"/><rect x="170.6" y="90.2" width="14.8" height="3.8" fill="#0a1af2"/><rect x="170.6" y="100.7" width="14.8" height="8.1" fill="#0a20f4"/><rect x="170.6" y="112.1" width="14.8" height="8.9" fill="#0a22f6"/><rect x="170.6" y="125.0" width="14.8" height="7.0" fill="#0a22f6"/><rect x="170.6" y="136.0" width="14.8" height="6.0" fill="#0a1af2"/><rect x="170.6" y="145.0" width="14.8" height="7.5" fill="#0a1af2"/><rect x="170.6" y="155.5" width="14.8" height="2.7" fill="#0a22f6"/><rect x="170.6" y="174.9" width="14.8" height="2.4" fill="#0818ee"/><rect x="170.6" y="183.5" width="14.8" height="6.1" fill="#1030ff"/><rect x="170.6" y="193.5" width="14.8" height="9.0" fill="#0a20f4"/><rect x="188.8" y="28.7" width="12.6" height="5.9" fill="#0a20f4"/><rect x="188.8" y="37.6" width="12.6" height="8.8" fill="#0a1af2"/><rect x="188.8" y="50.4" width="12.6" height="4.9" fill="#0a20f4"/><rect x="188.8" y="59.1" width="12.6" height="6.6" fill="#0818ee"/><rect x="188.8" y="68.7" width="12.6" height="6.0" fill="#0818ee"/><rect x="188.8" y="78.4" width="12.6" height="8.9" fill="#0a1af2"/><rect x="188.8" y="90.2" width="12.6" height="7.6" fill="#0a20f4"/><rect x="188.8" y="100.7" width="12.6" height="8.1" fill="#0c28f8"/><rect x="188.8" y="112.1" width="12.6" height="8.9" fill="#0c28f8"/><rect x="188.8" y="125.0" width="12.6" height="3.5" fill="#1030ff"/><rect x="188.8" y="136.0" width="12.6" height="6.0" fill="#0a20f4"/><rect x="188.8" y="155.5" width="12.6" height="2.7" fill="#0818ee"/><rect x="188.8" y="164.3" width="12.6" height="7.6" fill="#0c28f8"/><rect x="188.8" y="174.9" width="12.6" height="4.7" fill="#0818ee"/><rect x="188.8" y="183.5" width="12.6" height="6.1" fill="#0c28f8"/><rect x="188.8" y="193.5" width="12.6" height="9.0" fill="#0a22f6"/><rect x="204.6" y="90.2" width="11.8" height="7.6" fill="#0a20f4"/><rect x="204.6" y="100.7" width="11.8" height="8.1" fill="#0a1af2"/><rect x="204.6" y="112.1" width="11.8" height="8.9" fill="#0a1af2"/><rect x="204.6" y="125.0" width="11.8" height="7.0" fill="#1030ff"/><rect x="204.6" y="136.0" width="11.8" height="6.0" fill="#1030ff"/><rect x="204.6" y="145.0" width="11.8" height="7.5" fill="#0c28f8"/><rect x="204.6" y="155.5" width="11.8" height="5.5" fill="#1030ff"/><rect x="204.6" y="164.3" width="11.8" height="7.6" fill="#0c28f8"/><rect x="204.6" y="174.9" width="11.8" height="4.7" fill="#1030ff"/><rect x="204.6" y="183.5" width="11.8" height="6.1" fill="#0818ee"/><rect x="204.6" y="193.5" width="11.8" height="9.0" fill="#0c28f8"/><rect x="219.7" y="136.0" width="10.8" height="6.0" fill="#0a1af2"/><rect x="219.7" y="145.0" width="10.8" height="7.5" fill="#0818ee"/><rect x="219.7" y="155.5" width="10.8" height="5.5" fill="#0a1af2"/><rect x="219.7" y="164.3" width="10.8" height="7.6" fill="#0a20f4"/><rect x="219.7" y="183.5" width="10.8" height="6.1" fill="#0818ee"/><rect x="219.7" y="193.5" width="10.8" height="9.0" fill="#0818ee"/><rect x="234.0" y="183.5" width="12.3" height="6.1" fill="#0818ee"/><path d="M-128.2 -20V242M-113.8 -20V242M-97.9 -20V242M-86.0 -20V242M-72.3 -20V242M-54.0 -20V242M-36.7 -20V242M-20.8 -20V242M-4.7 -20V242M11.0 -20V242M27.2 -20V242M43.9 -20V242M57.6 -20V242M74.9 -20V242M91.7 -20V242M108.8 -20V242M123.7 -20V242M138.9 -20V242M156.6 -20V242M169.1 -20V242M187.1 -20V242M203.0 -20V242M218.0 -20V242M232.3 -20V242M248.3 -20V242M265.1 -20V242M283.1 -20V242M299.5 -20V242M-140 -9.2H316M-140 3.6H316M-140 14.9H316M-140 26.9H316M-140 36.1H316M-140 48.4H316M-140 57.2H316M-140 67.2H316M-140 76.5H316M-140 88.8H316M-140 99.3H316M-140 110.5H316M-140 123.0H316M-140 134.0H316M-140 143.6H316M-140 154.0H316M-140 162.6H316M-140 173.4H316M-140 181.6H316M-140 191.6H316M-140 204.2H316M-140 214.4H316M-140 225.6H316M-140 236.5H316" stroke="#b0f850" stroke-width="1.0" fill="none" opacity="0.9"/></g><path d="M1006.0 322.0L1081.0 292.0L1081.0 441.0L982.0 441.0L994.0 394.0L1004.6 373.0L1009.7 347.7ZM984.0 295.0L1081.0 253.5L1081.0 292.0L1006.0 322.0L987.0 302.0ZM976.0 300.0L945.0 312.0L928.0 330.0L920.0 360.0L917.0 400.0L918.0 420.0L988.0 405.0L976.0 375.0L973.0 350.0L974.0 330.0L978.0 310.0Z" fill="#1eeee8"/><g clip-path="url(#cright)"><rect x="970" y="250" width="120" height="200" filter="url(#fdk)"/><g transform="matrix(1.0 -0.12 -0.2 1.0 1000.0 300.0)"><rect x="8.7" y="23.3" width="8.7" height="7.0" fill="#0a20f4"/><rect x="8.7" y="34.2" width="8.7" height="9.5" fill="#0a22f6"/><rect x="8.7" y="81.8" width="8.7" height="7.5" fill="#0c28f8"/><rect x="8.7" y="92.8" width="8.7" height="3.0" fill="#0818ee"/><rect x="8.7" y="102.4" width="8.7" height="7.7" fill="#0a1af2"/><rect x="8.7" y="113.3" width="8.7" height="10.1" fill="#0a22f6"/><rect x="8.7" y="126.7" width="8.7" height="7.6" fill="#1030ff"/><rect x="8.7" y="137.7" width="8.7" height="9.5" fill="#1030ff"/><rect x="20.7" y="11.1" width="13.7" height="8.7" fill="#0a22f6"/><rect x="20.7" y="34.2" width="13.7" height="4.7" fill="#0a20f4"/><rect x="20.7" y="61.2" width="13.7" height="7.8" fill="#0a20f4"/><rect x="20.7" y="72.1" width="13.7" height="6.7" fill="#1030ff"/><rect x="20.7" y="92.8" width="13.7" height="6.0" fill="#0a22f6"/><rect x="20.7" y="102.4" width="13.7" height="7.7" fill="#1030ff"/><rect x="20.7" y="113.3" width="13.7" height="10.1" fill="#0a22f6"/><rect x="20.7" y="126.7" width="13.7" height="7.6" fill="#0a1af2"/><rect x="20.7" y="137.7" width="13.7" height="9.5" fill="#0c28f8"/><rect x="37.9" y="11.1" width="13.5" height="8.7" fill="#0818ee"/><rect x="37.9" y="23.3" width="13.5" height="7.0" fill="#1030ff"/><rect x="37.9" y="34.2" width="13.5" height="9.5" fill="#0c28f8"/><rect x="37.9" y="47.5" width="13.5" height="10.5" fill="#0a20f4"/><rect x="37.9" y="61.2" width="13.5" height="7.8" fill="#1030ff"/><rect x="37.9" y="72.1" width="13.5" height="6.7" fill="#0a20f4"/><rect x="37.9" y="81.8" width="13.5" height="3.8" fill="#1030ff"/><rect x="37.9" y="92.8" width="13.5" height="6.0" fill="#0a22f6"/><rect x="37.9" y="113.3" width="13.5" height="10.1" fill="#1030ff"/><rect x="37.9" y="126.7" width="13.5" height="7.6" fill="#0c28f8"/><rect x="37.9" y="137.7" width="13.5" height="9.5" fill="#1030ff"/><rect x="54.4" y="-0.2" width="11.1" height="7.4" fill="#0818ee"/><rect x="54.4" y="23.3" width="11.1" height="7.0" fill="#0c28f8"/><rect x="54.4" y="34.2" width="11.1" height="9.5" fill="#0a1af2"/><rect x="54.4" y="47.5" width="11.1" height="10.5" fill="#1030ff"/><rect x="54.4" y="61.2" width="11.1" height="3.9" fill="#0a20f4"/><rect x="54.4" y="72.1" width="11.1" height="6.7" fill="#0a20f4"/><rect x="54.4" y="81.8" width="11.1" height="7.5" fill="#0a1af2"/><rect x="54.4" y="92.8" width="11.1" height="6.0" fill="#1030ff"/><rect x="54.4" y="102.4" width="11.1" height="7.7" fill="#0818ee"/><rect x="54.4" y="113.3" width="11.1" height="10.1" fill="#0a20f4"/><rect x="54.4" y="126.7" width="11.1" height="7.6" fill="#0a20f4"/><rect x="54.4" y="137.7" width="11.1" height="9.5" fill="#0c28f8"/><rect x="68.6" y="-0.2" width="11.5" height="7.4" fill="#1030ff"/><rect x="68.6" y="11.1" width="11.5" height="8.7" fill="#1030ff"/><rect x="68.6" y="34.2" width="11.5" height="9.5" fill="#0a22f6"/><rect x="68.6" y="47.5" width="11.5" height="10.5" fill="#0a20f4"/><rect x="68.6" y="72.1" width="11.5" height="6.7" fill="#0a22f6"/><rect x="68.6" y="81.8" width="11.5" height="7.5" fill="#0a22f6"/><rect x="68.6" y="92.8" width="11.5" height="6.0" fill="#0a1af2"/><rect x="68.6" y="102.4" width="11.5" height="7.7" fill="#0818ee"/><rect x="68.6" y="113.3" width="11.5" height="10.1" fill="#0a22f6"/><rect x="68.6" y="126.7" width="11.5" height="7.6" fill="#0a22f6"/><rect x="68.6" y="137.7" width="11.5" height="9.5" fill="#0818ee"/><rect x="68.6" y="150.2" width="11.5" height="10.9" fill="#0a22f6"/><rect x="83.6" y="11.1" width="8.6" height="8.7" fill="#0c28f8"/><rect x="83.6" y="23.3" width="8.6" height="7.0" fill="#0818ee"/><rect x="83.6" y="34.2" width="8.6" height="9.5" fill="#0818ee"/><rect x="83.6" y="47.5" width="8.6" height="5.2" fill="#1030ff"/><rect x="83.6" y="61.2" width="8.6" height="7.8" fill="#1030ff"/><rect x="83.6" y="72.1" width="8.6" height="6.7" fill="#0a1af2"/><rect x="83.6" y="92.8" width="8.6" height="6.0" fill="#0a1af2"/><rect x="83.6" y="102.4" width="8.6" height="7.7" fill="#0a22f6"/><rect x="83.6" y="113.3" width="8.6" height="5.0" fill="#0c28f8"/><rect x="83.6" y="126.7" width="8.6" height="7.6" fill="#0a1af2"/><rect x="83.6" y="137.7" width="8.6" height="4.8" fill="#0a22f6"/><rect x="83.6" y="150.2" width="8.6" height="10.9" fill="#0a1af2"/><rect x="95.3" y="72.1" width="10.0" height="6.7" fill="#0a1af2"/><rect x="95.3" y="81.8" width="10.0" height="7.5" fill="#1030ff"/><rect x="95.3" y="92.8" width="10.0" height="6.0" fill="#0818ee"/><rect x="95.3" y="102.4" width="10.0" height="7.7" fill="#0a22f6"/><rect x="95.3" y="113.3" width="10.0" height="10.1" fill="#0818ee"/><rect x="95.3" y="126.7" width="10.0" height="7.6" fill="#0a22f6"/><rect x="95.3" y="137.7" width="10.0" height="9.5" fill="#0a1af2"/><rect x="95.3" y="150.2" width="10.0" height="10.9" fill="#0c28f8"/><rect x="109.1" y="150.2" width="12.7" height="10.9" fill="#0a20f4"/><path d="M-26.3 -60V172M-9.6 -60V172M6.8 -60V172M19.0 -60V172M36.2 -60V172M52.9 -60V172M67.1 -60V172M81.9 -60V172M93.7 -60V172M107.2 -60V172M123.4 -60V172M-40 -48.5H126M-40 -36.4H126M-40 -27.0H126M-40 -16.5H126M-40 -2.1H126M-40 9.1H126M-40 21.6H126M-40 32.3H126M-40 45.6H126M-40 59.6H126M-40 70.5H126M-40 80.3H126M-40 91.0H126M-40 100.6H126M-40 111.7H126M-40 125.1H126M-40 136.0H126M-40 148.7H126M-40 162.5H126" stroke="#b0f850" stroke-width="1.0" fill="none" opacity="0.9"/></g></g><g clip-path="url(#clensl)"><rect x="910" y="295" width="80" height="130" filter="url(#fdk)"/><g transform="matrix(1.0 -0.05 -0.1 1.0 915.0 300.0)"><rect x="0.0" y="38.1" width="14.3" height="3.8" fill="#1030ff"/><rect x="0.0" y="44.9" width="14.3" height="3.2" fill="#1030ff"/><rect x="0.0" y="50.8" width="14.3" height="4.1" fill="#0a20f4"/><rect x="0.0" y="57.6" width="14.3" height="4.0" fill="#0c28f8"/><rect x="0.0" y="64.4" width="14.3" height="4.5" fill="#0c28f8"/><rect x="0.0" y="71.6" width="14.3" height="5.7" fill="#0c28f8"/><rect x="0.0" y="80.0" width="14.3" height="3.4" fill="#0a22f6"/><rect x="0.0" y="85.6" width="14.3" height="5.8" fill="#0a20f4"/><rect x="0.0" y="94.1" width="14.3" height="3.6" fill="#0a1af2"/><rect x="0.0" y="100.6" width="14.3" height="4.7" fill="#0a22f6"/><rect x="0.0" y="108.1" width="14.3" height="5.6" fill="#0a1af2"/><rect x="17.2" y="13.4" width="13.3" height="3.3" fill="#0a20f4"/><rect x="17.2" y="19.1" width="13.3" height="3.1" fill="#1030ff"/><rect x="17.2" y="24.5" width="13.3" height="4.2" fill="#0818ee"/><rect x="17.2" y="31.7" width="13.3" height="4.1" fill="#0a1af2"/><rect x="17.2" y="38.1" width="13.3" height="3.8" fill="#0a1af2"/><rect x="17.2" y="44.9" width="13.3" height="3.2" fill="#0a22f6"/><rect x="17.2" y="50.8" width="13.3" height="4.1" fill="#1030ff"/><rect x="17.2" y="57.6" width="13.3" height="4.0" fill="#0a20f4"/><rect x="17.2" y="64.4" width="13.3" height="4.5" fill="#1030ff"/><rect x="17.2" y="71.6" width="13.3" height="5.7" fill="#0a20f4"/><rect x="17.2" y="80.0" width="13.3" height="1.7" fill="#0a1af2"/><rect x="17.2" y="85.6" width="13.3" height="5.8" fill="#0a20f4"/><rect x="17.2" y="94.1" width="13.3" height="3.6" fill="#0a22f6"/><rect x="17.2" y="100.6" width="13.3" height="4.7" fill="#0a22f6"/><rect x="17.2" y="108.1" width="13.3" height="5.6" fill="#0c28f8"/><rect x="17.2" y="116.2" width="13.3" height="2.0" fill="#0a1af2"/><rect x="33.3" y="7.0" width="12.9" height="3.6" fill="#1030ff"/><rect x="33.3" y="13.4" width="12.9" height="3.3" fill="#0c28f8"/><rect x="33.3" y="19.1" width="12.9" height="1.5" fill="#0818ee"/><rect x="33.3" y="24.5" width="12.9" height="4.2" fill="#0a20f4"/><rect x="33.3" y="31.7" width="12.9" height="4.1" fill="#0818ee"/><rect x="33.3" y="38.1" width="12.9" height="3.8" fill="#0a20f4"/><rect x="33.3" y="44.9" width="12.9" height="3.2" fill="#0a1af2"/><rect x="33.3" y="50.8" width="12.9" height="4.1" fill="#0818ee"/><rect x="33.3" y="57.6" width="12.9" height="4.0" fill="#0a22f6"/><rect x="33.3" y="64.4" width="12.9" height="4.5" fill="#0a22f6"/><rect x="33.3" y="71.6" width="12.9" height="5.7" fill="#0818ee"/><rect x="33.3" y="80.0" width="12.9" height="3.4" fill="#0c28f8"/><rect x="33.3" y="85.6" width="12.9" height="5.8" fill="#0a1af2"/><rect x="33.3" y="94.1" width="12.9" height="3.6" fill="#0818ee"/><rect x="33.3" y="100.6" width="12.9" height="4.7" fill="#0a20f4"/><rect x="33.3" y="108.1" width="12.9" height="5.6" fill="#0a22f6"/><rect x="33.3" y="116.2" width="12.9" height="4.1" fill="#0a1af2"/><rect x="48.5" y="7.0" width="22.0" height="3.6" fill="#1030ff"/><rect x="48.5" y="13.4" width="22.0" height="3.3" fill="#1030ff"/><rect x="48.5" y="19.1" width="22.0" height="3.1" fill="#0a20f4"/><rect x="48.5" y="24.5" width="22.0" height="4.2" fill="#0818ee"/><rect x="48.5" y="31.7" width="22.0" height="4.1" fill="#0a22f6"/><rect x="48.5" y="38.1" width="22.0" height="3.8" fill="#0c28f8"/><rect x="48.5" y="44.9" width="22.0" height="3.2" fill="#0a1af2"/><rect x="48.5" y="50.8" width="22.0" height="4.1" fill="#0818ee"/><rect x="48.5" y="57.6" width="22.0" height="4.0" fill="#0c28f8"/><rect x="48.5" y="64.4" width="22.0" height="4.5" fill="#0818ee"/><rect x="48.5" y="71.6" width="22.0" height="2.9" fill="#0c28f8"/><rect x="48.5" y="80.0" width="22.0" height="3.4" fill="#0a22f6"/><rect x="48.5" y="85.6" width="22.0" height="5.8" fill="#1030ff"/><rect x="48.5" y="94.1" width="22.0" height="3.6" fill="#0c28f8"/><rect x="48.5" y="100.6" width="22.0" height="4.7" fill="#0c28f8"/><rect x="48.5" y="108.1" width="22.0" height="5.6" fill="#0a1af2"/><rect x="72.9" y="85.6" width="18.4" height="2.9" fill="#0c28f8"/><rect x="72.9" y="94.1" width="18.4" height="3.6" fill="#1030ff"/><rect x="72.9" y="100.6" width="18.4" height="4.7" fill="#0a22f6"/><rect x="72.9" y="108.1" width="18.4" height="5.6" fill="#0c28f8"/></g></g><g clip-path="url(#cfan)"><rect x="980" y="250" width="110" height="80" filter="url(#fdk)"/><g transform="matrix(1.0 -0.42 0.3 1.0 990.0 300.0)"><rect x="0.0" y="-16.1" width="13.7" height="9.5" fill="#0c28f8"/><rect x="0.0" y="-3.0" width="13.7" height="10.0" fill="#0a20f4"/><rect x="0.0" y="10.3" width="13.7" height="8.9" fill="#0a1af2"/><rect x="0.0" y="22.5" width="13.7" height="7.5" fill="#0a1af2"/><rect x="16.6" y="-3.0" width="11.1" height="10.0" fill="#1030ff"/><rect x="16.6" y="10.3" width="11.1" height="8.9" fill="#0a20f4"/><rect x="16.6" y="22.5" width="11.1" height="7.5" fill="#0a1af2"/><rect x="31.1" y="-16.1" width="10.1" height="9.5" fill="#0818ee"/><rect x="31.1" y="-3.0" width="10.1" height="10.0" fill="#0a1af2"/><rect x="31.1" y="10.3" width="10.1" height="8.9" fill="#0a20f4"/><rect x="31.1" y="22.5" width="10.1" height="7.5" fill="#1030ff"/><rect x="44.2" y="-16.1" width="17.2" height="9.5" fill="#0a22f6"/><rect x="44.2" y="-3.0" width="17.2" height="5.0" fill="#0a1af2"/><rect x="44.2" y="10.3" width="17.2" height="8.9" fill="#0a22f6"/><rect x="44.2" y="22.5" width="17.2" height="7.5" fill="#0a20f4"/><rect x="63.8" y="-16.1" width="14.4" height="9.5" fill="#0a22f6"/><rect x="63.8" y="-3.0" width="14.4" height="10.0" fill="#0c28f8"/><rect x="63.8" y="10.3" width="14.4" height="8.9" fill="#1030ff"/><rect x="63.8" y="22.5" width="14.4" height="7.5" fill="#0a20f4"/><rect x="81.4" y="-3.0" width="10.3" height="10.0" fill="#0818ee"/><rect x="81.4" y="10.3" width="10.3" height="8.9" fill="#0a1af2"/><rect x="81.4" y="22.5" width="10.3" height="7.5" fill="#0c28f8"/></g></g><g clip-path="url(#cbl)"><rect x="830" y="365" width="95" height="80" fill="#1eeee8"/><rect x="830" y="365" width="95" height="80" filter="url(#fdk)"/><g transform="matrix(1.0 0.02 -0.12 1.0 830.0 366.0)"><rect x="0.0" y="0.0" width="21.6" height="5.2" fill="#0a20f4"/><rect x="0.0" y="7.5" width="21.6" height="2.0" fill="#0a1af2"/><rect x="0.0" y="13.6" width="21.6" height="4.0" fill="#1030ff"/><rect x="0.0" y="20.1" width="21.6" height="3.7" fill="#0818ee"/><rect x="0.0" y="26.2" width="21.6" height="3.7" fill="#0a22f6"/><rect x="0.0" y="32.3" width="21.6" height="4.5" fill="#0818ee"/><rect x="0.0" y="38.9" width="21.6" height="6.0" fill="#1030ff"/><rect x="0.0" y="53.0" width="21.6" height="5.0" fill="#0a20f4"/><rect x="0.0" y="59.9" width="21.6" height="3.2" fill="#0a22f6"/><rect x="0.0" y="68.9" width="21.6" height="3.8" fill="#0c28f8"/><rect x="23.9" y="0.0" width="24.7" height="5.2" fill="#0a1af2"/><rect x="23.9" y="7.5" width="24.7" height="3.9" fill="#0c28f8"/><rect x="23.9" y="13.6" width="24.7" height="4.0" fill="#1030ff"/><rect x="23.9" y="20.1" width="24.7" height="3.7" fill="#1030ff"/><rect x="23.9" y="26.2" width="24.7" height="3.7" fill="#0818ee"/><rect x="23.9" y="32.3" width="24.7" height="4.5" fill="#0818ee"/><rect x="23.9" y="46.8" width="24.7" height="3.7" fill="#0818ee"/><rect x="23.9" y="53.0" width="24.7" height="5.0" fill="#0a20f4"/><rect x="23.9" y="59.9" width="24.7" height="6.5" fill="#0a1af2"/><rect x="23.9" y="68.9" width="24.7" height="3.8" fill="#0a20f4"/><rect x="50.5" y="0.0" width="14.2" height="5.2" fill="#0818ee"/><rect x="50.5" y="7.5" width="14.2" height="3.9" fill="#0c28f8"/><rect x="50.5" y="13.6" width="14.2" height="4.0" fill="#0a22f6"/><rect x="50.5" y="20.1" width="14.2" height="3.7" fill="#0818ee"/><rect x="50.5" y="26.2" width="14.2" height="3.7" fill="#0c28f8"/><rect x="50.5" y="32.3" width="14.2" height="4.5" fill="#0818ee"/><rect x="50.5" y="38.9" width="14.2" height="6.0" fill="#0818ee"/><rect x="50.5" y="46.8" width="14.2" height="3.7" fill="#0a20f4"/><rect x="50.5" y="53.0" width="14.2" height="5.0" fill="#1030ff"/><rect x="50.5" y="59.9" width="14.2" height="6.5" fill="#0a20f4"/><rect x="50.5" y="68.9" width="14.2" height="3.8" fill="#0a20f4"/><rect x="66.8" y="0.0" width="18.4" height="2.6" fill="#0c28f8"/><rect x="66.8" y="7.5" width="18.4" height="3.9" fill="#0a1af2"/><rect x="66.8" y="13.6" width="18.4" height="4.0" fill="#0a20f4"/><rect x="66.8" y="20.1" width="18.4" height="3.7" fill="#0c28f8"/><rect x="66.8" y="26.2" width="18.4" height="1.9" fill="#1030ff"/><rect x="66.8" y="32.3" width="18.4" height="4.5" fill="#0c28f8"/><rect x="66.8" y="38.9" width="18.4" height="6.0" fill="#0a22f6"/><rect x="66.8" y="46.8" width="18.4" height="3.7" fill="#0a22f6"/><rect x="66.8" y="53.0" width="18.4" height="5.0" fill="#1030ff"/><rect x="66.8" y="59.9" width="18.4" height="6.5" fill="#0818ee"/><rect x="66.8" y="68.9" width="18.4" height="3.8" fill="#0c28f8"/><rect x="87.6" y="0.0" width="25.0" height="5.2" fill="#0a20f4"/><rect x="87.6" y="7.5" width="25.0" height="3.9" fill="#1030ff"/><rect x="87.6" y="13.6" width="25.0" height="4.0" fill="#0c28f8"/><rect x="87.6" y="20.1" width="25.0" height="3.7" fill="#1030ff"/><rect x="87.6" y="26.2" width="25.0" height="3.7" fill="#0818ee"/><rect x="87.6" y="32.3" width="25.0" height="4.5" fill="#0a20f4"/><rect x="87.6" y="38.9" width="25.0" height="6.0" fill="#1030ff"/><rect x="87.6" y="46.8" width="25.0" height="3.7" fill="#0a22f6"/><rect x="87.6" y="59.9" width="25.0" height="6.5" fill="#0c28f8"/><rect x="87.6" y="68.9" width="25.0" height="3.8" fill="#0a20f4"/></g></g><path d="M990.0 300.0L1003.0 315.0L1008.0 335.0L1008.0 350.0L1003.0 375.0L995.0 395.0L988.0 405.0L982.0 395.0L976.0 375.0L973.0 350.0L974.0 330.0L978.0 310.0L982.0 300.0Z" fill="#0a30f8"/><g clip-path="url(#cchan)"><rect x="975" y="295" width="40" height="120" filter="url(#fst2)"/></g></g><path d="M979 300C974 320 972 345 975 365S984 395 988 405" fill="none" stroke="#f0b020" stroke-width="2.4"/><path d="M990 300C1003 315 1008 335 1008 350S998 393 988 405" fill="none" stroke="#e8c030" stroke-width="2.4"/><path d="M976 300C950 310 930 330 922 355S916 400 917 441" fill="none" stroke="#e8d040" stroke-width="2"/><path d="M900 409L1081 402" fill="none" stroke="#e8e040" stroke-width="2"/><path d="M984 295L1081 253.5M990 305L1081 290M995 300L1030 330M1000 298L1045 318" fill="none" stroke="#f07020" stroke-width="1.8" opacity="0.85"/><path d="M915 330L950 316L984 295" fill="none" stroke="#f62" stroke-width="2.2"/><path d="M891 313L875 335L858 352L845 370L838 392" fill="none" stroke="#d8e838" stroke-width="2.4"/><path d="M914 331l8-4l-3 5z" fill="#e02000"/><g clip-path="url(#cup)"><g mask="url(#mglow)"><rect x="880" y="200" width="200" height="140" filter="url(#fgl)"/></g></g><circle cx="983.5" cy="295.3" r="12" fill="url(#gctr)"/><ellipse cx="972.5" cy="295" rx="5" ry="3.5" fill="#d01000"/><ellipse cx="983.2" cy="295" rx="6.6" ry="5.9" fill="#fff"/></g></g><path d="M830 231L837.2 243.3H822.8Z" fill="#fff" stroke="#111" stroke-width="1.6" stroke-linejoin="miter"/><rect x="90.5" y="26.5" width="431.0" height="414.0" fill="none" stroke="#7a7a7a" stroke-width="1"/><path d="M143.5 26.5v4.5M143.5 440.5v-4.5M231.0 26.5v4.5M231.0 440.5v-4.5M318.5 26.5v4.5M318.5 440.5v-4.5M406.0 26.5v4.5M406.0 440.5v-4.5M493.5 26.5v4.5M493.5 440.5v-4.5M90.5 42.4h4.5M521.5 42.4h-4.5M90.5 82.2h4.5M521.5 82.2h-4.5M90.5 122.0h4.5M521.5 122.0h-4.5M90.5 161.8h4.5M521.5 161.8h-4.5M90.5 201.6h4.5M521.5 201.6h-4.5M90.5 241.4h4.5M521.5 241.4h-4.5M90.5 281.2h4.5M521.5 281.2h-4.5M90.5 321.0h4.5M521.5 321.0h-4.5M90.5 360.8h4.5M521.5 360.8h-4.5M90.5 400.6h4.5M521.5 400.6h-4.5M90.5 440.4h4.5M521.5 440.4h-4.5" stroke="#7a7a7a" stroke-width="1" fill="none"/><rect x="649.5" y="26.5" width="431.0" height="414.0" fill="none" stroke="#7a7a7a" stroke-width="1"/><path d="M702.5 26.5v4.5M702.5 440.5v-4.5M790.0 26.5v4.5M790.0 440.5v-4.5M877.5 26.5v4.5M877.5 440.5v-4.5M965.0 26.5v4.5M965.0 440.5v-4.5M1052.5 26.5v4.5M1052.5 440.5v-4.5M649.5 42.4h4.5M1080.5 42.4h-4.5M649.5 82.2h4.5M1080.5 82.2h-4.5M649.5 122.0h4.5M1080.5 122.0h-4.5M649.5 161.8h4.5M1080.5 161.8h-4.5M649.5 201.6h4.5M1080.5 201.6h-4.5M649.5 241.4h4.5M1080.5 241.4h-4.5M649.5 281.2h4.5M1080.5 281.2h-4.5M649.5 321.0h4.5M1080.5 321.0h-4.5M649.5 360.8h4.5M1080.5 360.8h-4.5M649.5 400.6h4.5M1080.5 400.6h-4.5M649.5 440.4h4.5M1080.5 440.4h-4.5" stroke="#7a7a7a" stroke-width="1" fill="none"/><rect x="90.5" y="595.5" width="431.0" height="121.0" fill="none" stroke="#7a7a7a" stroke-width="1"/><path d="M143.5 595.5v4.5M143.5 716.5v-4.5M231.0 595.5v4.5M231.0 716.5v-4.5M318.5 595.5v4.5M318.5 716.5v-4.5M406.0 595.5v4.5M406.0 716.5v-4.5M493.5 595.5v4.5M493.5 716.5v-4.5M90.5 595.2h4.5M521.5 595.2h-4.5M90.5 635.5h4.5M521.5 635.5h-4.5M90.5 675.8h4.5M521.5 675.8h-4.5M90.5 716.1h4.5M521.5 716.1h-4.5" stroke="#7a7a7a" stroke-width="1" fill="none"/><text x="143.5" y="463.8" font-size="16.9" text-anchor="middle" font-weight="normal" fill="#262626">120.02</text><text x="231.0" y="463.8" font-size="16.9" text-anchor="middle" font-weight="normal" fill="#262626">120.03</text><text x="318.5" y="463.8" font-size="16.9" text-anchor="middle" font-weight="normal" fill="#262626">120.04</text><text x="406.0" y="463.8" font-size="16.9" text-anchor="middle" font-weight="normal" fill="#262626">120.05</text><text x="493.5" y="463.8" font-size="16.9" text-anchor="middle" font-weight="normal" fill="#262626">120.06</text><text x="702.5" y="463.8" font-size="16.9" text-anchor="middle" font-weight="normal" fill="#262626">120.02</text><text x="790.0" y="463.8" font-size="16.9" text-anchor="middle" font-weight="normal" fill="#262626">120.03</text><text x="877.5" y="463.8" font-size="16.9" text-anchor="middle" font-weight="normal" fill="#262626">120.04</text><text x="965.0" y="463.8" font-size="16.9" text-anchor="middle" font-weight="normal" fill="#262626">120.05</text><text x="1052.5" y="463.8" font-size="16.9" text-anchor="middle" font-weight="normal" fill="#262626">120.06</text><text x="143.5" y="740.7" font-size="16.9" text-anchor="middle" font-weight="normal" fill="#262626">120.02</text><text x="231.0" y="740.7" font-size="16.9" text-anchor="middle" font-weight="normal" fill="#262626">120.03</text><text x="318.5" y="740.7" font-size="16.9" text-anchor="middle" font-weight="normal" fill="#262626">120.04</text><text x="406.0" y="740.7" font-size="16.9" text-anchor="middle" font-weight="normal" fill="#262626">120.05</text><text x="493.5" y="740.7" font-size="16.9" text-anchor="middle" font-weight="normal" fill="#262626">120.06</text><text x="85.3" y="49.3" font-size="16.9" text-anchor="end" font-weight="normal" fill="#262626">23.145</text><text x="85.3" y="89.1" font-size="16.9" text-anchor="end" font-weight="normal" fill="#262626">23.14</text><text x="85.3" y="128.9" font-size="16.9" text-anchor="end" font-weight="normal" fill="#262626">23.135</text><text x="85.3" y="168.7" font-size="16.9" text-anchor="end" font-weight="normal" fill="#262626">23.13</text><text x="85.3" y="208.5" font-size="16.9" text-anchor="end" font-weight="normal" fill="#262626">23.125</text><text x="85.3" y="248.3" font-size="16.9" text-anchor="end" font-weight="normal" fill="#262626">23.12</text><text x="85.3" y="288.09999999999997" font-size="16.9" text-anchor="end" font-weight="normal" fill="#262626">23.115</text><text x="85.3" y="327.8999999999999" font-size="16.9" text-anchor="end" font-weight="normal" fill="#262626">23.11</text><text x="85.3" y="367.69999999999993" font-size="16.9" text-anchor="end" font-weight="normal" fill="#262626">23.105</text><text x="85.3" y="407.49999999999994" font-size="16.9" text-anchor="end" font-weight="normal" fill="#262626">23.1</text><text x="85.3" y="447.29999999999995" font-size="16.9" text-anchor="end" font-weight="normal" fill="#262626">23.095</text><text x="644.3" y="49.3" font-size="16.9" text-anchor="end" font-weight="normal" fill="#262626">23.145</text><text x="644.3" y="89.1" font-size="16.9" text-anchor="end" font-weight="normal" fill="#262626">23.14</text><text x="644.3" y="128.9" font-size="16.9" text-anchor="end" font-weight="normal" fill="#262626">23.135</text><text x="644.3" y="168.7" font-size="16.9" text-anchor="end" font-weight="normal" fill="#262626">23.13</text><text x="644.3" y="208.5" font-size="16.9" text-anchor="end" font-weight="normal" fill="#262626">23.125</text><text x="644.3" y="248.3" font-size="16.9" text-anchor="end" font-weight="normal" fill="#262626">23.12</text><text x="644.3" y="288.09999999999997" font-size="16.9" text-anchor="end" font-weight="normal" fill="#262626">23.115</text><text x="644.3" y="327.8999999999999" font-size="16.9" text-anchor="end" font-weight="normal" fill="#262626">23.11</text><text x="644.3" y="367.69999999999993" font-size="16.9" text-anchor="end" font-weight="normal" fill="#262626">23.105</text><text x="644.3" y="407.49999999999994" font-size="16.9" text-anchor="end" font-weight="normal" fill="#262626">23.1</text><text x="644.3" y="447.29999999999995" font-size="16.9" text-anchor="end" font-weight="normal" fill="#262626">23.095</text><text x="85.3" y="602.1" font-size="16.9" text-anchor="end" font-weight="normal" fill="#262626">0</text><text x="85.3" y="642.4" font-size="16.9" text-anchor="end" font-weight="normal" fill="#262626">5</text><text x="85.3" y="682.6999999999999" font-size="16.9" text-anchor="end" font-weight="normal" fill="#262626">10</text><text x="85.3" y="723.0" font-size="16.9" text-anchor="end" font-weight="normal" fill="#262626">15</text><text x="308.6" y="487.3" font-size="17.0" text-anchor="middle" font-weight="normal" fill="#262626">Longitude ( °)</text><text x="867.6" y="487.3" font-size="17.0" text-anchor="middle" font-weight="normal" fill="#262626">Longitude ( °)</text><text x="308.6" y="764.0" font-size="17.0" text-anchor="middle" font-weight="normal" fill="#262626">Longitude ( °)</text><text x="26.2" y="230.5" font-size="17.0" text-anchor="middle" font-weight="normal" fill="#262626" transform="rotate(-90 26.2 230.5)">Latitude ( °)</text><text x="58.3" y="653" font-size="17.0" text-anchor="middle" font-weight="normal" fill="#262626" transform="rotate(-90 58.3 653)">Depth (m)</text><text x="308.6" y="21.6" font-size="16.9" text-anchor="middle" font-weight="bold" fill="#262626" stroke="#111" stroke-width="0.35">(a)</text><text x="866.8" y="21.6" font-size="16.9" text-anchor="middle" font-weight="bold" fill="#262626" stroke="#111" stroke-width="0.35">(c)</text><text x="308.6" y="590.6" font-size="16.9" text-anchor="middle" font-weight="bold" fill="#262626" stroke="#111" stroke-width="0.35">(b)</text><rect x="90.5" y="507.5" width="431.0" height="21.0" fill="none" stroke="#7a7a7a" stroke-width="1"/><path d="M138.4 528.5v-4M186.3 528.5v-4M234.2 528.5v-4M282.1 528.5v-4M329.9 528.5v-4M377.8 528.5v-4M425.7 528.5v-4M473.6 528.5v-4" stroke="#333" stroke-width="1" fill="none"/><text x="90.5" y="550" font-size="14.6" text-anchor="middle" font-weight="normal" fill="#262626">0</text><text x="138.38888888888889" y="550" font-size="14.6" text-anchor="middle" font-weight="normal" fill="#262626">2</text><text x="186.27777777777777" y="550" font-size="14.6" text-anchor="middle" font-weight="normal" fill="#262626">4</text><text x="234.16666666666666" y="550" font-size="14.6" text-anchor="middle" font-weight="normal" fill="#262626">6</text><text x="282.05555555555554" y="550" font-size="14.6" text-anchor="middle" font-weight="normal" fill="#262626">8</text><text x="329.94444444444446" y="550" font-size="14.6" text-anchor="middle" font-weight="normal" fill="#262626">10</text><text x="377.8333333333333" y="550" font-size="14.6" text-anchor="middle" font-weight="normal" fill="#262626">12</text><text x="425.72222222222223" y="550" font-size="14.6" text-anchor="middle" font-weight="normal" fill="#262626">14</text><text x="473.6111111111111" y="550" font-size="14.6" text-anchor="middle" font-weight="normal" fill="#262626">16</text><text x="521.5" y="550" font-size="14.6" text-anchor="middle" font-weight="normal" fill="#262626">18</text><text x="308.5" y="524" font-size="17.0" text-anchor="middle" font-weight="normal" fill="#262626">In situ depth (m)</text><rect x="649.5" y="507.5" width="431.0" height="21.0" fill="none" stroke="#7a7a7a" stroke-width="1"/><path d="M735.7 528.5v-4M821.9 528.5v-4M908.1 528.5v-4M994.3 528.5v-4" stroke="#333" stroke-width="1" fill="none"/><text x="649.5" y="550" font-size="14.6" text-anchor="middle" font-weight="normal" fill="#262626">0</text><text x="735.7" y="550" font-size="14.6" text-anchor="middle" font-weight="normal" fill="#262626">0.2</text><text x="821.9" y="550" font-size="14.6" text-anchor="middle" font-weight="normal" fill="#262626">0.4</text><text x="908.0999999999999" y="550" font-size="14.6" text-anchor="middle" font-weight="normal" fill="#262626">0.6</text><text x="994.3" y="550" font-size="14.6" text-anchor="middle" font-weight="normal" fill="#262626">0.8</text><text x="1080.5" y="550" font-size="14.6" text-anchor="middle" font-weight="normal" fill="#262626">1</text><text x="867.5" y="524" font-size="17.0" text-anchor="middle" font-weight="normal" fill="#262626">Normalized radar echo intensity</text><defs><clipPath id="ca"><rect x="91" y="27" width="430" height="413"/></clipPath><clipPath id="cc"><rect x="650" y="27" width="430" height="413"/></clipPath></defs><g clip-path="url(#ca)"><defs><radialGradient id="gsp1"><stop offset="0" stop-color="#1a8cff"/><stop offset="0.5" stop-color="#0a5cff" stop-opacity="0.7"/><stop offset="1" stop-color="#0040ff" stop-opacity="0"/></radialGradient><radialGradient id="gsp2"><stop offset="0" stop-color="#60ffa0"/><stop offset="0.6" stop-color="#40ffc0" stop-opacity="0.5"/><stop offset="1" stop-color="#20ffe0" stop-opacity="0"/></radialGradient></defs><ellipse cx="0" cy="0" rx="12" ry="8" fill="url(#gsp1)" transform="translate(324 301) rotate(50)"/><ellipse cx="0" cy="0" rx="10" ry="7" fill="url(#gsp1)" opacity="0.5" transform="translate(316 291) rotate(40)"/><ellipse cx="0" cy="0" rx="14" ry="6" fill="url(#gsp1)" opacity="0.45" transform="translate(338 262) rotate(20)"/><ellipse cx="0" cy="0" rx="6" ry="4" fill="url(#gsp2)" transform="translate(418.5 113) rotate(70)"/><path d="M522.0 47.5L521.4 48.2L511.8 65.5L500.3 79.6L490.0 92.4L484.1 100.0L476.4 111.5L467.4 124.4L458.5 137.2L449.5 151.3L440.5 165.4L432.8 173.1L425.1 182.1L419.1 190.0L412.0 200.3L404.8 208.5L398.6 215.7L394.5 222.9L390.4 231.1L386.3 238.3L383.2 245.4L381.7 251.6L382.2 256.7L384.8 261.4L387.8 262.7L390.4 260.8L391.4 258.3L390.9 255.7L394.5 249.5L400.7 241.3L406.8 235.2L412.0 229.5L417.1 224.9L420.2 221.8L419.1 218.7L422.2 219.3L425.3 215.7L427.4 210.5L429.4 205.4L434.5 203.3L436.6 200.3L440.7 195.1L443.8 190.0L449.5 182.1L452.0 178.2L455.9 174.4L459.7 170.5L464.9 165.4L465.5 161.5L466.2 157.7L466.8 153.8L469.4 150.0L472.6 143.6L473.8 138.5L473.8 133.3L475.1 129.5L477.1 125.6L478.3 120.5L482.8 115.4L488.0 110.9L491.8 109.2L508.5 112.2L520.0 100.0L522.0 98.0ZM274.1 441.0L274.8 422.5L275.5 415.3L276.2 404.0L276.9 396.9L277.6 392.6L274.8 386.9L276.9 376.9L279.1 372.7L276.2 369.8L276.9 364.9L279.1 360.6L281.9 355.6L284.8 348.5L288.3 344.2L289.7 338.5L294.7 334.3L300.4 330.0L304.2 327.5L310.8 323.3L320.8 319.2L330.8 316.3L335.0 318.3L339.2 320.8L344.2 324.2L345.4 326.7L341.7 324.6L337.5 322.0L335.0 321.7L333.3 327.5L331.7 335.0L329.2 341.7L328.3 336.7L326.7 335.8L321.7 345.0L320.0 350.0L318.3 355.8L320.0 358.3L333.3 351.7L341.7 345.4L351.7 339.2L353.3 336.7L360.0 335.0L362.5 331.7L364.2 330.0L370.0 328.3L391.2 316.4L405.0 306.5L415.8 301.0L419.6 301.3L421.2 300.0L418.5 298.5L413.5 297.3L411.7 295.4L414.6 293.5L418.0 294.2L420.4 294.6L424.2 293.8L429.6 291.5L445.0 285.0L455.0 281.6L484.0 268.0L522.0 253.5L522.0 441.0Z" fill="#f4f0ec"/><ellipse cx="425.3" cy="295.8" rx="314" ry="263" fill="none" stroke="#f00" stroke-width="2.2" stroke-dasharray="8 8.07" stroke-dashoffset="-4.85"/><path d="M425.2 286.2L432 295.5L425.2 304.8L418.2 295.5Z" fill="#f0f" stroke="#3c3" stroke-width="0.8"/><path d="M522.0 47.5L521.4 48.2L511.8 65.5L500.3 79.6L490.0 92.4L484.1 100.0L476.4 111.5L467.4 124.4L458.5 137.2L449.5 151.3L440.5 165.4L432.8 173.1L425.1 182.1L419.1 190.0L412.0 200.3L404.8 208.5L398.6 215.7L394.5 222.9L390.4 231.1L386.3 238.3L383.2 245.4L381.7 251.6L382.2 256.7L384.8 261.4L387.8 262.7L390.4 260.8L391.4 258.3L390.9 255.7L394.5 249.5L400.7 241.3L406.8 235.2L412.0 229.5L417.1 224.9L420.2 221.8L419.1 218.7L422.2 219.3L425.3 215.7L427.4 210.5L429.4 205.4L434.5 203.3L436.6 200.3L440.7 195.1L443.8 190.0L449.5 182.1L452.0 178.2L455.9 174.4L459.7 170.5L464.9 165.4L465.5 161.5L466.2 157.7L466.8 153.8L469.4 150.0L472.6 143.6L473.8 138.5L473.8 133.3L475.1 129.5L477.1 125.6L478.3 120.5L482.8 115.4L488.0 110.9L491.8 109.2L508.5 112.2L520.0 100.0L522.0 98.0ZM274.1 441.0L274.8 422.5L275.5 415.3L276.2 404.0L276.9 396.9L277.6 392.6L274.8 386.9L276.9 376.9L279.1 372.7L276.2 369.8L276.9 364.9L279.1 360.6L281.9 355.6L284.8 348.5L288.3 344.2L289.7 338.5L294.7 334.3L300.4 330.0L304.2 327.5L310.8 323.3L320.8 319.2L330.8 316.3L335.0 318.3L339.2 320.8L344.2 324.2L345.4 326.7L341.7 324.6L337.5 322.0L335.0 321.7L333.3 327.5L331.7 335.0L329.2 341.7L328.3 336.7L326.7 335.8L321.7 345.0L320.0 350.0L318.3 355.8L320.0 358.3L333.3 351.7L341.7 345.4L351.7 339.2L353.3 336.7L360.0 335.0L362.5 331.7L364.2 330.0L370.0 328.3L391.2 316.4L405.0 306.5L415.8 301.0L419.6 301.3L421.2 300.0L418.5 298.5L413.5 297.3L411.7 295.4L414.6 293.5L418.0 294.2L420.4 294.6L424.2 293.8L429.6 291.5L445.0 285.0L455.0 281.6L484.0 268.0L522.0 253.5L522.0 441.0Z" fill="none" stroke="#111" stroke-width="1.3" stroke-linejoin="round"/></g><rect x="102.5" y="36.5" width="168" height="48.5" fill="#fff" stroke="#777" stroke-width="1"/><path d="M126.7 41.2L133.9 50.3L126.7 59.4L119.5 50.3Z" fill="#f0f" stroke="#55f" stroke-width="0.9"/><path d="M106.3 72.1H147.4" stroke="#222" stroke-width="1.4"/><text x="155.6" y="57.2" font-size="16.9" text-anchor="start" font-weight="normal" fill="#262626">Radar antenna</text><text x="155.6" y="78.8" font-size="16.9" text-anchor="start" font-weight="normal" fill="#262626">Shoreline</text><path d="M244.7 701.7C245.9 699.2 249.4 691.4 251.7 686.7C254.0 682.0 256.4 678.3 258.3 673.3C260.2 668.3 261.8 661.7 263.3 656.7C264.8 651.7 266.1 647.8 267.5 643.3C268.9 638.8 270.4 633.2 271.7 630C272.9 626.8 273.9 625.3 275 624.2C276.1 623.1 277.3 623.2 278.3 623.3C279.3 623.4 280.0 625.1 280.8 625C281.6 624.9 282.2 624.2 283.3 622.5C284.4 620.8 286.1 617.0 287.5 615C288.9 613.0 290.2 612.0 291.7 610.8C293.2 609.5 295.0 608.2 296.7 607.5C298.4 606.8 300.2 606.6 301.7 606.7C303.2 606.8 304.4 607.3 305.8 608C307.2 608.7 308.5 610.1 310 610.8C311.5 611.5 313.3 612.0 315 612C316.7 612.0 318.2 611.4 320 610.8C321.8 610.2 323.9 609.4 325.8 608.3C327.8 607.2 329.9 605.5 331.7 604.2C333.5 603.0 335.0 601.8 336.7 600.8C338.4 599.8 340.4 598.8 341.7 598C342.9 597.2 343.8 596.2 344.2 595.8" fill="none" stroke="#0000f0" stroke-width="2.6" stroke-linejoin="round"/>
</svg>
</body></html>
